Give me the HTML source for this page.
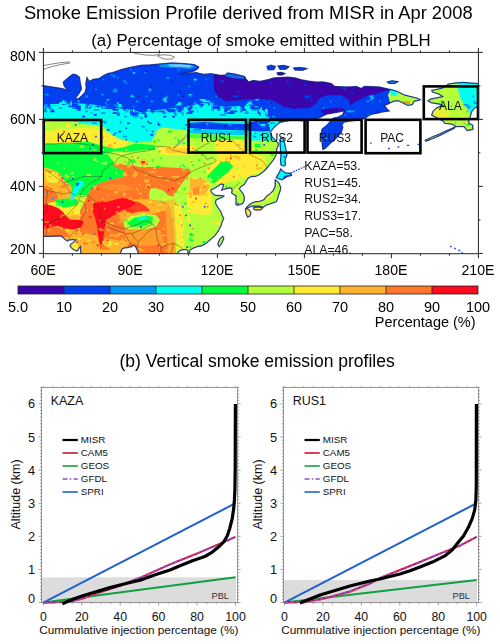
<!DOCTYPE html>
<html><head><meta charset="utf-8"><style>
html,body{margin:0;padding:0;background:#fff;}
svg{display:block;position:absolute;left:0;top:0;}
#m{will-change:transform;}
text{font-family:"Liberation Sans",sans-serif;}
</style></head><body>
<svg xmlns="http://www.w3.org/2000/svg" width="500" height="644" viewBox="0 0 500 644">
<rect x="41.5" y="577.3" width="194.6" height="25.300000000000068" fill="#dcdcdc"/>
<rect x="41.5" y="387.4" width="196.1" height="215.20000000000005" fill="none" stroke="#888" stroke-width="0.9"/>
<path d="M43.30 602.6v3M43.30 387.4v-1.2M52.91 602.6v1.5M52.91 387.4v-1.2M62.52 602.6v1.5M62.52 387.4v-1.2M72.13 602.6v1.5M72.13 387.4v-1.2M81.74 602.6v3M81.74 387.4v-1.2M91.35 602.6v1.5M91.35 387.4v-1.2M100.96 602.6v1.5M100.96 387.4v-1.2M110.57 602.6v1.5M110.57 387.4v-1.2M120.18 602.6v3M120.18 387.4v-1.2M129.79 602.6v1.5M129.79 387.4v-1.2M139.40 602.6v1.5M139.40 387.4v-1.2M149.01 602.6v1.5M149.01 387.4v-1.2M158.62 602.6v3M158.62 387.4v-1.2M168.23 602.6v1.5M168.23 387.4v-1.2M177.84 602.6v1.5M177.84 387.4v-1.2M187.45 602.6v1.5M187.45 387.4v-1.2M197.06 602.6v3M197.06 387.4v-1.2M206.67 602.6v1.5M206.67 387.4v-1.2M216.28 602.6v1.5M216.28 387.4v-1.2M225.89 602.6v1.5M225.89 387.4v-1.2M235.50 602.6v3M235.50 387.4v-1.2M41.5 602.60h-3M237.6 602.60h3M41.5 599.29h-1.5M237.6 599.29h1.5M41.5 595.97h-1.5M237.6 595.97h1.5M41.5 592.66h-1.5M237.6 592.66h1.5M41.5 589.35h-1.5M237.6 589.35h1.5M41.5 586.03h-1.5M237.6 586.03h1.5M41.5 582.72h-1.5M237.6 582.72h1.5M41.5 579.41h-1.5M237.6 579.41h1.5M41.5 576.10h-1.5M237.6 576.10h1.5M41.5 572.78h-1.5M237.6 572.78h1.5M41.5 569.47h-3M237.6 569.47h3M41.5 566.16h-1.5M237.6 566.16h1.5M41.5 562.84h-1.5M237.6 562.84h1.5M41.5 559.53h-1.5M237.6 559.53h1.5M41.5 556.22h-1.5M237.6 556.22h1.5M41.5 552.90h-1.5M237.6 552.90h1.5M41.5 549.59h-1.5M237.6 549.59h1.5M41.5 546.28h-1.5M237.6 546.28h1.5M41.5 542.97h-1.5M237.6 542.97h1.5M41.5 539.65h-1.5M237.6 539.65h1.5M41.5 536.34h-3M237.6 536.34h3M41.5 533.03h-1.5M237.6 533.03h1.5M41.5 529.71h-1.5M237.6 529.71h1.5M41.5 526.40h-1.5M237.6 526.40h1.5M41.5 523.09h-1.5M237.6 523.09h1.5M41.5 519.77h-1.5M237.6 519.77h1.5M41.5 516.46h-1.5M237.6 516.46h1.5M41.5 513.15h-1.5M237.6 513.15h1.5M41.5 509.84h-1.5M237.6 509.84h1.5M41.5 506.52h-1.5M237.6 506.52h1.5M41.5 503.21h-3M237.6 503.21h3M41.5 499.90h-1.5M237.6 499.90h1.5M41.5 496.58h-1.5M237.6 496.58h1.5M41.5 493.27h-1.5M237.6 493.27h1.5M41.5 489.96h-1.5M237.6 489.96h1.5M41.5 486.64h-1.5M237.6 486.64h1.5M41.5 483.33h-1.5M237.6 483.33h1.5M41.5 480.02h-1.5M237.6 480.02h1.5M41.5 476.71h-1.5M237.6 476.71h1.5M41.5 473.39h-1.5M237.6 473.39h1.5M41.5 470.08h-3M237.6 470.08h3M41.5 466.77h-1.5M237.6 466.77h1.5M41.5 463.45h-1.5M237.6 463.45h1.5M41.5 460.14h-1.5M237.6 460.14h1.5M41.5 456.83h-1.5M237.6 456.83h1.5M41.5 453.51h-1.5M237.6 453.51h1.5M41.5 450.20h-1.5M237.6 450.20h1.5M41.5 446.89h-1.5M237.6 446.89h1.5M41.5 443.58h-1.5M237.6 443.58h1.5M41.5 440.26h-1.5M237.6 440.26h1.5M41.5 436.95h-3M237.6 436.95h3M41.5 433.64h-1.5M237.6 433.64h1.5M41.5 430.32h-1.5M237.6 430.32h1.5M41.5 427.01h-1.5M237.6 427.01h1.5M41.5 423.70h-1.5M237.6 423.70h1.5M41.5 420.38h-1.5M237.6 420.38h1.5M41.5 417.07h-1.5M237.6 417.07h1.5M41.5 413.76h-1.5M237.6 413.76h1.5M41.5 410.45h-1.5M237.6 410.45h1.5M41.5 407.13h-1.5M237.6 407.13h1.5M41.5 403.82h-3M237.6 403.82h3M41.5 400.51h-1.5M237.6 400.51h1.5M41.5 397.19h-1.5M237.6 397.19h1.5M41.5 393.88h-1.5M237.6 393.88h1.5M41.5 390.57h-1.5M237.6 390.57h1.5M41.5 387.25h-1.5M237.6 387.25h1.5" stroke="#888" stroke-width="0.8" fill="none"/>
<text x="35.10" y="603.20" font-size="12.8" text-anchor="end" fill="#111" >0</text>
<text x="35.10" y="574.07" font-size="12.8" text-anchor="end" fill="#111" >1</text>
<text x="35.10" y="540.94" font-size="12.8" text-anchor="end" fill="#111" >2</text>
<text x="35.10" y="507.81" font-size="12.8" text-anchor="end" fill="#111" >3</text>
<text x="35.10" y="474.68" font-size="12.8" text-anchor="end" fill="#111" >4</text>
<text x="35.10" y="441.55" font-size="12.8" text-anchor="end" fill="#111" >5</text>
<text x="35.10" y="408.42" font-size="12.8" text-anchor="end" fill="#111" >6</text>
<text x="43.30" y="620.80" font-size="12.3" text-anchor="middle" fill="#111" >0</text>
<text x="81.74" y="620.80" font-size="12.3" text-anchor="middle" fill="#111" >20</text>
<text x="120.18" y="620.80" font-size="12.3" text-anchor="middle" fill="#111" >40</text>
<text x="158.62" y="620.80" font-size="12.3" text-anchor="middle" fill="#111" >60</text>
<text x="197.06" y="620.80" font-size="12.3" text-anchor="middle" fill="#111" >80</text>
<text x="235.50" y="620.80" font-size="12.3" text-anchor="middle" fill="#111" >100</text>
<text x="138.80" y="633.80" font-size="11.8" text-anchor="middle" fill="#111" >Cummulative injection percentage (%)</text>
<text x="0.00" y="0.00" font-size="12.5" text-anchor="middle" fill="#111" transform="translate(19.6 494.5) rotate(-90)">Altitude (km)</text>
<text x="50.70" y="405.00" font-size="12.5" text-anchor="start" fill="#111" >KAZA</text>
<text x="211.60" y="598.70" font-size="9.2" text-anchor="start" fill="#333" >PBL</text>
<path d="M43.30 602.60L235.50 503.21" stroke="#2060d0" stroke-width="2" fill="none"/>
<path d="M43.30 602.60L235.50 577.30" stroke="#10a040" stroke-width="2" fill="none"/>
<path d="M43.5 602.7L54 602.3L62.4 601.9L72.2 600.9L82 598.8L89 596L100 592.2L120 585.8L140 577.8L170 564.3L184 558.7L198 553.1L212 547.1L226 541.2L235.3 536.8" stroke="#e0102a" stroke-width="2" fill="none"/>
<path d="M43.5 602.7L54 602.3L62.4 601.9L72.2 600.9L82 598.8L89 596L100 592.2L120 585.8L140 577.8L170 564.3L184 558.7L198 553.1L212 547.1L226 541.2L235.3 536.8" stroke="#9050d0" stroke-width="2" fill="none" stroke-dasharray="3.4 2.6"/>
<path d="M62.4 603.7L72.2 599.5L82 596L96 591.8L100 590.6L110 587.6L120 585L128 583L140 580.2L156 574.6L170 570L180 565.8L192.4 560.8L204.8 556.5L212.3 552.1L218.5 547.1L223.5 542.2L227.2 536L229.7 528.5L232.2 518.6L233.7 508.6L234.4 499.9L234.9 490L235.2 470L235.4 404" stroke="#000" stroke-width="3.2" fill="none" stroke-linejoin="round"/>
<path d="M62.5 440h15.3" stroke="#000" stroke-width="2.2"/>
<text x="80.80" y="443.30" font-size="9.8" text-anchor="start" fill="#111" >MISR</text>
<path d="M62.5 453h15.3" stroke="#d01030" stroke-width="1.6"/>
<text x="80.80" y="456.30" font-size="9.8" text-anchor="start" fill="#111" >CAM5</text>
<path d="M62.5 466h15.3" stroke="#10a040" stroke-width="1.6"/>
<text x="80.80" y="469.30" font-size="9.8" text-anchor="start" fill="#111" >GEOS</text>
<path d="M62.5 479h15.3" stroke="#9050d0" stroke-width="1.6" stroke-dasharray="5 2.2 1.6 2.2"/>
<text x="80.80" y="482.30" font-size="9.8" text-anchor="start" fill="#111" >GFDL</text>
<path d="M62.5 492h15.3" stroke="#2060d0" stroke-width="1.6"/>
<text x="80.80" y="495.30" font-size="9.8" text-anchor="start" fill="#111" >SPRI</text>
<rect x="283.5" y="580.1" width="193.5" height="22.5" fill="#dcdcdc"/>
<rect x="283.5" y="387.4" width="195.0" height="215.20000000000005" fill="none" stroke="#888" stroke-width="0.9"/>
<path d="M284.50 602.6v3M284.50 387.4v-1.2M294.11 602.6v1.5M294.11 387.4v-1.2M303.72 602.6v1.5M303.72 387.4v-1.2M313.33 602.6v1.5M313.33 387.4v-1.2M322.94 602.6v3M322.94 387.4v-1.2M332.55 602.6v1.5M332.55 387.4v-1.2M342.16 602.6v1.5M342.16 387.4v-1.2M351.77 602.6v1.5M351.77 387.4v-1.2M361.38 602.6v3M361.38 387.4v-1.2M370.99 602.6v1.5M370.99 387.4v-1.2M380.60 602.6v1.5M380.60 387.4v-1.2M390.21 602.6v1.5M390.21 387.4v-1.2M399.82 602.6v3M399.82 387.4v-1.2M409.43 602.6v1.5M409.43 387.4v-1.2M419.04 602.6v1.5M419.04 387.4v-1.2M428.65 602.6v1.5M428.65 387.4v-1.2M438.26 602.6v3M438.26 387.4v-1.2M447.87 602.6v1.5M447.87 387.4v-1.2M457.48 602.6v1.5M457.48 387.4v-1.2M467.09 602.6v1.5M467.09 387.4v-1.2M476.70 602.6v3M476.70 387.4v-1.2M283.5 602.60h-3M478.5 602.60h3M283.5 599.29h-1.5M478.5 599.29h1.5M283.5 595.97h-1.5M478.5 595.97h1.5M283.5 592.66h-1.5M478.5 592.66h1.5M283.5 589.35h-1.5M478.5 589.35h1.5M283.5 586.03h-1.5M478.5 586.03h1.5M283.5 582.72h-1.5M478.5 582.72h1.5M283.5 579.41h-1.5M478.5 579.41h1.5M283.5 576.10h-1.5M478.5 576.10h1.5M283.5 572.78h-1.5M478.5 572.78h1.5M283.5 569.47h-3M478.5 569.47h3M283.5 566.16h-1.5M478.5 566.16h1.5M283.5 562.84h-1.5M478.5 562.84h1.5M283.5 559.53h-1.5M478.5 559.53h1.5M283.5 556.22h-1.5M478.5 556.22h1.5M283.5 552.90h-1.5M478.5 552.90h1.5M283.5 549.59h-1.5M478.5 549.59h1.5M283.5 546.28h-1.5M478.5 546.28h1.5M283.5 542.97h-1.5M478.5 542.97h1.5M283.5 539.65h-1.5M478.5 539.65h1.5M283.5 536.34h-3M478.5 536.34h3M283.5 533.03h-1.5M478.5 533.03h1.5M283.5 529.71h-1.5M478.5 529.71h1.5M283.5 526.40h-1.5M478.5 526.40h1.5M283.5 523.09h-1.5M478.5 523.09h1.5M283.5 519.77h-1.5M478.5 519.77h1.5M283.5 516.46h-1.5M478.5 516.46h1.5M283.5 513.15h-1.5M478.5 513.15h1.5M283.5 509.84h-1.5M478.5 509.84h1.5M283.5 506.52h-1.5M478.5 506.52h1.5M283.5 503.21h-3M478.5 503.21h3M283.5 499.90h-1.5M478.5 499.90h1.5M283.5 496.58h-1.5M478.5 496.58h1.5M283.5 493.27h-1.5M478.5 493.27h1.5M283.5 489.96h-1.5M478.5 489.96h1.5M283.5 486.64h-1.5M478.5 486.64h1.5M283.5 483.33h-1.5M478.5 483.33h1.5M283.5 480.02h-1.5M478.5 480.02h1.5M283.5 476.71h-1.5M478.5 476.71h1.5M283.5 473.39h-1.5M478.5 473.39h1.5M283.5 470.08h-3M478.5 470.08h3M283.5 466.77h-1.5M478.5 466.77h1.5M283.5 463.45h-1.5M478.5 463.45h1.5M283.5 460.14h-1.5M478.5 460.14h1.5M283.5 456.83h-1.5M478.5 456.83h1.5M283.5 453.51h-1.5M478.5 453.51h1.5M283.5 450.20h-1.5M478.5 450.20h1.5M283.5 446.89h-1.5M478.5 446.89h1.5M283.5 443.58h-1.5M478.5 443.58h1.5M283.5 440.26h-1.5M478.5 440.26h1.5M283.5 436.95h-3M478.5 436.95h3M283.5 433.64h-1.5M478.5 433.64h1.5M283.5 430.32h-1.5M478.5 430.32h1.5M283.5 427.01h-1.5M478.5 427.01h1.5M283.5 423.70h-1.5M478.5 423.70h1.5M283.5 420.38h-1.5M478.5 420.38h1.5M283.5 417.07h-1.5M478.5 417.07h1.5M283.5 413.76h-1.5M478.5 413.76h1.5M283.5 410.45h-1.5M478.5 410.45h1.5M283.5 407.13h-1.5M478.5 407.13h1.5M283.5 403.82h-3M478.5 403.82h3M283.5 400.51h-1.5M478.5 400.51h1.5M283.5 397.19h-1.5M478.5 397.19h1.5M283.5 393.88h-1.5M478.5 393.88h1.5M283.5 390.57h-1.5M478.5 390.57h1.5M283.5 387.25h-1.5M478.5 387.25h1.5" stroke="#888" stroke-width="0.8" fill="none"/>
<text x="277.10" y="603.20" font-size="12.8" text-anchor="end" fill="#111" >0</text>
<text x="277.10" y="574.07" font-size="12.8" text-anchor="end" fill="#111" >1</text>
<text x="277.10" y="540.94" font-size="12.8" text-anchor="end" fill="#111" >2</text>
<text x="277.10" y="507.81" font-size="12.8" text-anchor="end" fill="#111" >3</text>
<text x="277.10" y="474.68" font-size="12.8" text-anchor="end" fill="#111" >4</text>
<text x="277.10" y="441.55" font-size="12.8" text-anchor="end" fill="#111" >5</text>
<text x="277.10" y="408.42" font-size="12.8" text-anchor="end" fill="#111" >6</text>
<text x="284.50" y="620.80" font-size="12.3" text-anchor="middle" fill="#111" >0</text>
<text x="322.94" y="620.80" font-size="12.3" text-anchor="middle" fill="#111" >20</text>
<text x="361.38" y="620.80" font-size="12.3" text-anchor="middle" fill="#111" >40</text>
<text x="399.82" y="620.80" font-size="12.3" text-anchor="middle" fill="#111" >60</text>
<text x="438.26" y="620.80" font-size="12.3" text-anchor="middle" fill="#111" >80</text>
<text x="476.70" y="620.80" font-size="12.3" text-anchor="middle" fill="#111" >100</text>
<text x="380.80" y="633.80" font-size="11.8" text-anchor="middle" fill="#111" >Cummulative injection percentage (%)</text>
<text x="0.00" y="0.00" font-size="12.5" text-anchor="middle" fill="#111" transform="translate(261.6 494.5) rotate(-90)">Altitude (km)</text>
<text x="292.70" y="405.00" font-size="12.5" text-anchor="start" fill="#111" >RUS1</text>
<text x="452.50" y="598.70" font-size="9.2" text-anchor="start" fill="#333" >PBL</text>
<path d="M284.50 602.60L476.70 503.21" stroke="#2060d0" stroke-width="2" fill="none"/>
<path d="M284.50 602.60L476.70 580.10" stroke="#10a040" stroke-width="2" fill="none"/>
<path d="M284.6 602.6L300 602L310 601L320 599.5L330 597L350 591.5L370 583.5L380 578L400 570L420 562L440 553.6L460 545.6L476.7 536.8" stroke="#e0102a" stroke-width="2" fill="none"/>
<path d="M284.6 602.6L300 602L310 601L320 599.5L330 597L350 591.5L370 583.5L380 578L400 570L420 562L440 553.6L460 545.6L476.7 536.8" stroke="#9050d0" stroke-width="2" fill="none" stroke-dasharray="3.4 2.6"/>
<path d="M300 603L310 599L320 595L330 592L340 589L350 586L360 583.5L370 581L380 579L392 576L400 574L410 570.8L420 567L432.4 562.1L444.8 555.9L452.3 549.7L457.3 543.5L463.5 536L468.4 527.3L472.2 518.6L474.7 509.9L475.9 500L476.3 485L476.4 404" stroke="#000" stroke-width="3.2" fill="none" stroke-linejoin="round"/>
<path d="M304.5 440h15.3" stroke="#000" stroke-width="2.2"/>
<text x="322.80" y="443.30" font-size="9.8" text-anchor="start" fill="#111" >MISR</text>
<path d="M304.5 453h15.3" stroke="#d01030" stroke-width="1.6"/>
<text x="322.80" y="456.30" font-size="9.8" text-anchor="start" fill="#111" >CAM5</text>
<path d="M304.5 466h15.3" stroke="#10a040" stroke-width="1.6"/>
<text x="322.80" y="469.30" font-size="9.8" text-anchor="start" fill="#111" >GEOS</text>
<path d="M304.5 479h15.3" stroke="#9050d0" stroke-width="1.6" stroke-dasharray="5 2.2 1.6 2.2"/>
<text x="322.80" y="482.30" font-size="9.8" text-anchor="start" fill="#111" >GFDL</text>
<path d="M304.5 492h15.3" stroke="#2060d0" stroke-width="1.6"/>
<text x="322.80" y="495.30" font-size="9.8" text-anchor="start" fill="#111" >SPRI</text>
</svg>
<svg id="m" xmlns="http://www.w3.org/2000/svg" width="500" height="644" viewBox="0 0 500 644">
<text x="23.90" y="19.20" font-size="19" text-anchor="start" fill="#000" textLength="448.7" lengthAdjust="spacingAndGlyphs" >Smoke Emission Profile derived from MISR in Apr 2008</text>
<text x="261.00" y="46.00" font-size="16.8" text-anchor="middle" fill="#000" >(a) Percentage of smoke emitted within PBLH</text>
<defs><clipPath id="mapclip"><rect x="43" y="52" width="435" height="201.5"/></clipPath><clipPath id="land"><path d="M43.0 85.6L55.0 87.5L62.6 88.7L67.5 90.5L64.0 85.6L63.3 82.1L69.6 76.5L73.1 74.1L76.6 75.1L79.5 77.2L79.8 80.0L80.5 84.0L81.5 89.0L79.0 93.5L76.0 97.5L75.5 98.8L78.0 99.0L81.5 96.0L85.0 92.5L86.3 88.0L85.8 84.0L86.5 80.0L87.0 77.5L89.2 81.4L93.4 79.3L99.0 78.6L103.2 75.8L107.4 73.7L113.0 72.5L121.4 69.5L130.0 67.5L141.0 65.3L149.6 65.0L164.0 63.6L172.0 63.0L184.8 63.6L194.4 64.6L198.8 67.0L197.6 68.8L194.4 70.9L188.0 72.5L180.0 74.2L188.0 73.4L196.0 72.6L200.0 73.6L204.0 74.4L211.0 73.7L220.0 75.3L225.0 75.1L227.8 73.0L236.2 74.4L244.6 76.5L246.0 79.3L248.8 82.1L253.0 80.5L260.0 81.4L267.0 80.0L274.0 77.9L288.0 77.2L295.0 77.9L302.0 80.0L309.0 81.2L316.0 82.1L323.0 82.0L331.4 83.5L334.2 86.3L344.0 87.0L350.0 87.0L356.4 86.5L361.2 88.5L364.4 86.4L378.8 87.0L390.0 89.4L396.4 91.0L401.2 93.4L404.4 95.0L410.8 96.6L417.2 98.2L420.4 99.8L414.0 101.4L412.4 104.6L407.6 105.4L402.8 103.0L398.0 100.6L393.2 101.4L390.0 103.0L386.8 104.6L384.4 104.9L386.0 107.8L389.2 111.0L382.8 111.8L376.4 113.4L371.6 114.2L368.4 115.8L365.2 118.2L358.0 120.0L350.0 121.0L344.4 122.0L342.0 124.4L342.8 127.6L341.2 132.4L336.4 138.0L331.6 142.0L328.4 145.2L325.2 148.4L322.8 149.4L322.0 142.0L321.2 134.0L322.0 129.2L326.0 126.0L329.0 123.0L331.0 120.0L333.5 118.0L338.0 117.2L342.8 114.8L344.4 110.8L336.4 112.4L326.8 114.0L320.4 117.2L314.0 119.5L306.0 121.0L298.0 120.5L290.0 120.5L284.0 121.5L280.0 122.4L276.0 125.6L272.8 128.8L270.4 132.0L272.0 136.8L276.0 140.8L278.5 143.5L278.3 145.5L277.0 148.0L276.5 152.0L276.0 155.0L274.0 159.0L271.0 163.0L267.0 168.0L263.0 172.0L259.0 175.0L255.0 176.5L251.0 176.5L247.8 178.6L246.0 181.6L244.2 184.6L240.6 187.0L239.4 188.8L240.6 190.6L243.0 193.6L244.2 196.6L244.2 200.2L243.0 203.2L240.6 204.4L237.6 205.3L235.8 204.4L236.1 201.4L235.8 197.8L236.1 195.7L234.0 194.8L231.6 193.0L232.2 190.0L231.0 187.9L229.0 188.0L225.0 189.0L222.0 190.0L221.5 190.5L223.0 187.0L223.5 184.5L221.0 184.0L218.0 186.0L215.0 188.0L211.0 190.0L211.0 191.5L213.0 194.0L216.0 195.5L220.0 195.5L224.0 196.0L223.0 197.0L219.0 198.6L216.0 200.0L215.5 203.0L217.0 206.0L219.0 209.0L221.0 212.0L222.0 215.0L223.7 218.4L221.5 223.8L221.4 225.0L219.0 229.8L216.6 233.4L214.2 236.4L210.6 239.4L205.8 243.6L201.0 246.0L197.4 246.6L192.6 248.4L189.6 250.8L189.2 254.0L188.2 254.0L187.8 250.8L186.6 249.6L183.0 249.6L179.4 250.8L177.0 254.0L138.8 254.0L137.0 249.8L135.6 246.7L133.8 245.3L131.1 246.7L127.5 247.6L123.9 248.0L121.7 249.4L120.3 254.0L81.0 254.0L80.5 251.0L80.5 246.5L79.0 248.0L77.5 251.0L75.0 250.5L72.0 248.5L70.0 246.0L71.0 244.0L74.0 242.0L76.0 240.0L73.0 239.5L69.0 240.0L67.5 241.0L65.0 239.5L63.0 237.5L61.0 236.0L53.0 236.2L43.0 236.5ZM447.8 84.2L455.2 83.0L462.6 82.3L470.0 83.0L479.0 83.6L479.0 106.0L474.0 108.5L471.5 112.0L470.5 116.0L469.0 119.5L468.8 123.4L472.6 125.0L473.0 129.5L467.0 130.5L464.0 126.5L456.0 126.6L450.4 129.0L444.8 131.4L440.0 133.8L432.0 137.0L425.0 140.3L426.0 141.2L433.0 138.5L440.0 135.4L444.8 133.0L449.6 130.6L454.4 128.2L455.0 125.8L452.0 124.2L444.8 123.4L442.8 120.8L436.6 117.7L431.6 115.2L432.9 111.5L436.6 107.8L442.8 105.3L439.0 104.0L431.6 102.8L427.9 100.9L430.4 99.1L436.6 97.8L442.8 96.6L439.0 94.1L432.9 92.3L431.6 90.4L437.8 89.2L442.8 87.9L447.8 84.8ZM280.5 138.0L283.0 138.5L284.5 143.0L286.0 150.0L287.0 155.0L285.0 160.0L285.5 165.0L284.0 166.0L281.0 165.0L280.5 160.0L281.0 155.0L280.5 150.0L280.0 143.0ZM280.7 168.8L282.9 171.0L286.2 173.2L290.6 173.2L291.7 175.4L287.3 176.5L284.0 178.7L281.8 179.8L278.5 178.7L276.3 177.6L277.4 175.4L279.6 172.1ZM275.2 179.8L277.4 181.5L279.0 183.1L280.7 187.5L280.2 190.8L278.5 195.2L277.4 199.6L276.3 201.8L273.0 202.9L269.7 204.0L266.4 205.1L263.1 207.3L259.8 206.2L256.5 206.2L252.1 206.2L248.8 207.3L246.6 208.4L246.6 207.3L248.8 205.1L252.1 202.9L255.4 201.8L259.8 201.3L264.2 199.6L266.4 196.3L269.7 194.1L273.0 190.8L275.2 186.4L275.2 182.0ZM245.5 208.4L248.8 209.5L251.0 212.8L249.9 216.1L247.7 217.2L246.1 213.9L245.5 210.6ZM253.5 207.6L258.0 207.0L263.0 207.8L261.0 209.8L256.0 210.0L254.0 209.4ZM222.6 236.2L223.8 238.2L222.0 243.0L219.2 246.8L217.8 244.2L219.6 239.4ZM267.0 66.5L271.0 65.3L275.4 66.5L274.0 69.5L268.0 69.8ZM278.0 66.0L284.0 65.5L289.0 66.8L286.0 69.2L280.0 69.3ZM293.6 68.0L300.0 67.4L307.0 68.6L303.0 70.2L295.0 70.0ZM277.0 73.0L281.0 72.3L285.0 73.5L282.0 75.0L278.0 74.8ZM387.4 82.0L392.0 80.8L398.0 81.6L395.0 83.4L389.0 83.4Z"/></clipPath></defs>
<g clip-path="url(#mapclip)"><g clip-path="url(#land)">
<rect x="40" y="50" width="445" height="210" fill="#0040f0"/>
<path d="M213.8 70.0L213.8 89.0L217.4 96.2L226.4 101.6L233.6 100.7L242.6 99.8L257.0 98.9L271.4 99.8L278.6 103.4L284.0 107.0L293.0 108.8L309.0 107.9L316.2 103.4L319.8 98.0L327.0 95.3L341.4 95.3L348.6 99.8L350.4 105.2L355.8 101.6L363.0 98.0L369.2 95.0L379.0 94.0L387.4 91.2L391.6 89.0L395.0 85.0L395.0 70.0Z" fill="#3c05aa"/>
<path d="M321.0 110.0L330.0 108.5L342.0 108.0L346.0 111.0L341.0 116.0L330.0 116.0L321.0 114.0Z" fill="#3c05aa"/>
<path d="M158.0 64.0L175.0 63.0L190.0 64.0L197.0 67.0L190.0 69.0L175.0 68.0L160.0 67.0Z" fill="#00fff0" opacity="0.45"/>
<path d="M168.0 64.5L180.0 64.3L192.0 65.5L190.0 67.5L180.0 66.8L170.0 66.5Z" fill="#ffffff" opacity="0.5"/>
<path d="M224.0 73.0L236.0 73.0L245.0 76.0L244.0 79.0L232.0 78.0L225.0 76.0Z" fill="#0096f5" opacity="0.7"/>
<path d="M43.0 106.0L52.0 105.5L61.0 105.0L70.0 104.0L79.0 103.5L88.0 104.0L97.0 105.0L106.0 106.8L115.0 108.0L124.0 109.0L133.0 110.0L141.0 112.5L159.0 109.8L177.0 108.0L185.0 107.0L195.0 104.5L205.0 103.0L215.0 105.0L225.0 107.0L240.0 106.0L250.0 105.5L258.0 106.5L265.0 112.0L270.0 119.0L280.0 122.0L280.0 141.0L265.0 141.0L251.0 141.0L245.0 136.0L215.0 135.0L191.0 134.0L187.0 131.0L179.0 130.0L163.0 128.0L157.0 130.0L155.0 136.0L151.0 142.0L135.0 143.0L119.0 139.0L111.0 134.0L103.0 126.5L100.0 126.0L85.0 124.5L70.0 121.0L60.0 120.0L43.0 119.5Z" fill="#00fff0"/>
<path d="M189.0 123.0L205.0 122.0L225.0 123.5L245.0 124.0L255.0 121.0L270.0 121.0L270.0 131.0L262.0 131.5L245.0 130.5L230.0 130.0L212.0 129.5L195.0 128.5L189.0 128.0Z" fill="#0040f0"/>
<path d="M189.0 130.0L245.0 131.0L245.0 135.0L189.0 134.0Z" fill="#0096f5" opacity="0.5"/>
<path d="M43.0 119.0L60.0 119.5L70.0 120.5L85.0 124.0L100.0 125.5L103.0 126.0L111.0 133.5L119.0 138.5L135.0 142.5L151.0 141.5L155.0 135.5L157.0 129.5L163.0 127.5L179.0 129.5L187.0 130.5L191.0 133.5L215.0 134.5L245.0 135.5L251.0 140.5L265.0 140.5L280.0 140.5L280.0 160.0L280.0 260.0L40.0 260.0Z" fill="#b4ff3c"/>
<path d="M189.0 134.0L215.0 135.0L245.0 136.0L245.0 139.0L215.0 139.0L189.0 138.0Z" fill="#00ff3c" opacity="0.6"/>
<path d="M43.0 131.5L61.0 129.7L79.0 127.9L95.0 128.5L103.0 131.0L111.0 135.0L119.0 139.5L127.0 143.0L125.0 146.5L115.0 148.6L100.6 145.0L88.0 141.4L70.0 143.2L45.7 144.1L43.0 144.0Z" fill="#ffeb32"/>
<path d="M103.0 145.0L124.0 145.0L124.0 153.0L103.0 153.0Z" fill="#ffeb32"/>
<path d="M158.0 148.0L170.0 146.0L195.0 146.0L195.0 154.0L175.0 155.5L160.0 154.0Z" fill="#ffeb32"/>
<path d="M165.0 149.0L190.0 148.0L190.0 153.0L168.0 153.0Z" fill="#ffb42d" opacity="0.6"/>
<path d="M215.0 139.0L244.0 140.0L247.0 150.0L255.0 154.0L264.0 157.0L267.0 164.0L262.0 170.0L256.0 174.0L250.0 175.5L246.0 177.5L240.0 179.5L230.0 181.5L222.0 184.0L214.0 183.4L207.6 179.4L206.0 170.6L214.0 162.6L218.0 157.0L215.0 150.0Z" fill="#ffeb32"/>
<path d="M207.6 175.4L207.6 180.2L214.0 183.4L222.0 177.0L230.0 170.6L233.2 165.8L226.8 161.0L220.4 162.6L210.8 172.2Z" fill="#00ff3c"/>
<path d="M43.0 143.6L70.0 143.4L88.0 141.6L100.6 145.2L115.0 148.8L125.0 147.0L135.0 143.5L155.0 145.0L155.0 150.0L140.0 150.5L125.0 152.0L107.0 153.0L110.2 157.8L113.4 161.0L115.0 165.8L118.2 167.4L123.0 168.2L123.0 177.0L111.8 179.4L103.8 181.8L95.8 185.0L91.0 188.2L87.8 195.0L70.2 195.0L71.8 188.2L70.2 185.0L65.4 181.8L62.2 177.0L59.0 173.0L51.0 169.0L43.0 167.4Z" fill="#00ff3c"/>
<path d="M111.8 151.4L123.0 151.0L123.0 166.0L115.0 165.8L113.4 161.0L110.2 157.8Z" fill="#b4ff3c"/>
<path d="M113.4 164.2L123.0 163.5L123.0 169.0L115.0 168.0Z" fill="#ff7828" opacity="0.8"/>
<path d="M112.0 164.5L130.0 165.0L140.0 167.0L160.0 167.0L180.0 168.0L190.4 169.6L190.4 172.8L184.0 180.8L179.2 187.2L176.0 192.0L172.8 196.8L168.0 195.2L163.2 190.4L155.2 188.0L150.4 188.8L148.8 195.2L150.0 200.0L162.0 201.0L169.0 204.0L172.0 215.0L174.0 232.0L176.0 254.0L81.0 254.0L80.0 235.0L78.0 215.0L87.8 195.0L91.0 188.2L95.8 185.0L103.8 181.8L111.8 179.4L123.0 177.0L123.0 170.0L118.0 168.0Z" fill="#ff7828"/>
<path d="M138.0 160.0L144.0 158.5L149.0 161.0L147.0 165.0L140.0 165.0Z" fill="#ffb42d" opacity="0.6"/>
<path d="M141.0 161.5L144.5 161.0L145.0 163.0L141.5 163.5Z" fill="#ff0a1e"/>
<path d="M137.0 157.0L139.0 157.0L139.0 158.7L137.0 158.7Z" fill="#ff7828"/>
<path d="M146.0 163.5L148.0 163.5L148.0 165.2L146.0 165.2Z" fill="#ff7828"/>
<path d="M128.0 200.0L150.0 199.0L162.0 202.0L168.0 206.0L165.0 211.0L150.0 210.0L135.0 211.0L128.0 208.0Z" fill="#ffb42d"/>
<path d="M100.0 186.0L112.0 184.0L125.0 185.0L135.0 189.0L125.0 191.0L110.0 190.0Z" fill="#ffb42d" opacity="0.35"/>
<path d="M43.0 167.4L51.0 169.0L59.0 173.0L62.2 177.0L65.4 181.8L70.2 185.0L71.8 188.2L70.2 195.0L78.0 200.0L80.0 215.0L80.0 240.0L81.0 254.0L40.0 254.0L40.0 167.0Z" fill="#ffb42d"/>
<path d="M45.0 172.0L55.0 172.0L60.0 178.0L57.0 183.0L47.0 182.0Z" fill="#ffeb32"/>
<path d="M43.0 185.0L52.0 188.0L58.0 196.0L56.0 205.0L43.0 205.0Z" fill="#ff7828"/>
<path d="M43.0 226.0L55.0 226.0L65.0 231.0L70.0 236.0L60.0 238.0L43.0 237.0Z" fill="#ff7828"/>
<path d="M67.0 238.0L76.0 240.0L80.0 250.0L75.0 252.0L70.0 246.0Z" fill="#ffeb32"/>
<path d="M48.0 203.0L60.0 200.5L72.0 202.0L80.0 204.0L80.0 214.0L68.0 216.0L55.0 215.0L48.0 212.0Z" fill="#ffeb32"/>
<path d="M55.4 200.0L65.0 198.5L77.8 199.5L77.0 205.5L65.0 207.5L56.0 206.0Z" fill="#00ff3c"/>
<path d="M52.0 205.0L62.0 206.0L60.0 209.0L52.0 208.5Z" fill="#b4ff3c"/>
<path d="M79.0 180.5L84.0 181.5L83.0 186.0L79.0 190.0L76.0 195.0L73.0 200.0L71.0 201.0L70.5 197.0L72.5 191.0L75.0 186.0L77.0 182.5Z" fill="#00fff0"/>
<path d="M119.0 215.5L127.0 212.5L137.0 210.0L148.0 210.5L155.0 208.0L163.0 204.5L167.0 207.0L160.0 212.0L150.0 215.0L138.0 217.5L127.0 219.5L120.0 219.0Z" fill="#ffb42d"/>
<path d="M80.0 232.0L97.0 236.0L100.0 246.0L105.0 238.0L118.0 240.0L130.0 242.0L121.0 254.0L81.0 254.0Z" fill="#ffb42d"/>
<path d="M125.0 228.0L160.0 230.0L165.0 245.0L140.0 246.0L125.0 240.0Z" fill="#ffb42d" opacity="0.6"/>
<path d="M43.0 226.0L56.0 227.0L60.0 233.0L55.0 236.0L43.0 236.0Z" fill="#ff7828"/>
<path d="M43.0 204.0L50.0 205.0L58.0 208.0L63.0 212.0L66.0 216.0L70.0 219.5L80.0 220.0L84.0 222.0L81.0 227.5L72.0 229.5L64.0 228.0L58.0 226.0L52.0 226.5L47.0 228.5L43.0 228.5Z" fill="#ff0a1e"/>
<path d="M93.0 204.0L100.0 201.0L106.0 202.3L117.0 199.0L122.5 197.9L128.0 199.0L133.0 201.0L136.0 203.0L131.0 207.0L122.5 210.0L117.0 213.3L111.5 216.6L106.0 220.0L105.0 226.0L103.0 240.0L101.0 250.0L99.0 240.0L97.0 226.0L95.0 218.0L93.0 212.0Z" fill="#ff0a1e"/>
<path d="M130.0 201.5L138.0 201.8L145.0 205.5L149.4 209.8L149.4 211.0L140.0 211.5L131.0 213.3L125.0 210.0Z" fill="#ff0a1e" opacity="0.7"/>
<path d="M123.0 223.0L130.0 216.5L142.0 214.0L156.0 215.0L160.0 220.0L156.0 227.0L145.0 229.5L132.0 229.5L125.0 228.0Z" fill="#b4ff3c"/>
<path d="M127.0 223.0L134.0 218.0L146.0 215.5L153.0 217.0L152.0 223.0L142.0 226.5L131.0 226.5Z" fill="#00ff3c"/>
<path d="M136.0 219.0L142.0 216.5L147.0 216.0L147.0 218.5L140.0 220.5Z" fill="#00fff0" opacity="0.85"/>
<path d="M165.0 201.0L175.0 199.0L176.0 254.0L168.0 254.0Z" fill="#ffb42d" opacity="0.7"/>
<path d="M174.0 205.0L180.0 204.0L183.0 215.0L184.0 254.0L178.0 254.0L176.0 230.0Z" fill="#ffeb32"/>
<path d="M187.0 192.0L200.0 187.0L212.0 190.0L212.0 214.0L200.0 215.0L187.0 212.0Z" fill="#ffeb32"/>
<path d="M190.0 177.0L205.0 180.0L210.0 186.0L205.0 195.0L195.0 196.0L190.0 190.0Z" fill="#ffb42d"/>
<path d="M193.0 188.0L200.0 187.0L199.0 194.0L193.0 195.0Z" fill="#ff7828" opacity="0.7"/>
<path d="M281.0 191.0L279.0 197.0L277.0 202.0L272.0 204.0L266.0 206.0L262.0 208.0L255.0 207.0L248.0 208.0L245.0 209.0L245.0 218.0L252.0 218.0L253.0 211.0L264.0 211.0L270.0 206.0L278.0 204.0L282.0 198.0Z" fill="#ffeb32"/>
<path d="M247.0 205.0L258.0 201.0L268.0 195.0L272.0 193.0L274.0 195.0L266.0 201.0L255.0 204.0Z" fill="#ffeb32" opacity="0.8"/>
<path d="M275.0 165.0L292.0 172.0L292.0 174.0L284.0 176.0L282.0 181.0L274.0 181.0Z" fill="#00fff0"/>
<path d="M279.0 137.0L288.0 137.0L288.0 167.0L279.0 167.0Z" fill="#00fff0"/>
<path d="M391.0 89.0L370.0 96.0L355.0 104.0L395.0 106.0Z" fill="#0040f0"/>
<path d="M391.0 89.0L420.0 95.0L425.0 105.0L391.0 106.0L388.0 95.0Z" fill="#b4ff3c"/>
<path d="M390.0 88.0L398.0 90.0L397.0 95.0L391.0 96.0Z" fill="#00fff0"/>
<path d="M402.0 101.0L410.0 101.0L410.0 104.0L403.0 104.0Z" fill="#ff7828" opacity="0.7"/>
<path d="M385.0 79.0L400.0 79.0L400.0 85.0L385.0 85.0Z" fill="#0096f5"/>
<path d="M425.0 80.0L479.0 80.0L479.0 145.0L425.0 145.0Z" fill="#b4ff3c"/>
<path d="M457.7 80.0L457.7 87.9L458.9 92.9L460.8 99.1L465.1 106.5L470.0 112.7L475.0 115.2L479.0 116.0L479.0 80.0Z" fill="#00fff0"/>
<path d="M432.0 108.0L449.0 109.0L449.0 118.0L432.0 118.0Z" fill="#ffeb32" opacity="0.7"/>
<path d="M145.9 70.4h1.5v1.7h-1.5zM170.6 80.5h1.5v1.7h-1.5zM150.3 85.5h1.5v1.7h-1.5zM179.3 90.5h1.5v1.7h-1.5zM137.2 95.6h1.5v1.7h-1.5zM182.2 95.6h1.5v1.7h-1.5zM380.8 95.6h1.5v1.7h-1.5zM270.6 102.2h1.5v1.7h-1.5zM376.5 110.6h1.5v1.7h-1.5zM224.2 125.7h1.5v1.7h-1.5z" fill="#3c05aa"/>
<path d="M219.9 80.5h1.5v1.7h-1.5zM221.3 80.5h1.5v1.7h-1.5zM222.8 80.5h1.5v1.7h-1.5zM286.6 80.5h1.5v1.7h-1.5zM270.6 82.2h1.5v1.7h-1.5zM289.5 83.8h1.5v1.7h-1.5zM304.0 83.8h1.5v1.7h-1.5zM343.1 87.2h1.5v1.7h-1.5zM344.6 87.2h1.5v1.7h-1.5zM344.6 88.8h1.5v1.7h-1.5zM237.3 90.5h1.5v1.7h-1.5zM351.8 92.2h1.5v1.7h-1.5zM232.9 95.6h1.5v1.7h-1.5zM234.4 95.6h1.5v1.7h-1.5zM235.8 95.6h1.5v1.7h-1.5zM237.3 95.6h1.5v1.7h-1.5zM304.0 95.6h1.5v1.7h-1.5zM305.4 95.6h1.5v1.7h-1.5zM306.9 95.6h1.5v1.7h-1.5zM308.3 95.6h1.5v1.7h-1.5zM309.8 95.6h1.5v1.7h-1.5zM257.6 97.2h1.5v1.7h-1.5zM305.4 97.2h1.5v1.7h-1.5zM306.9 97.2h1.5v1.7h-1.5zM309.8 98.9h1.5v1.7h-1.5zM311.2 100.6h1.5v1.7h-1.5zM72.0 103.9h1.5v1.7h-1.5zM73.5 103.9h1.5v1.7h-1.5zM74.9 103.9h1.5v1.7h-1.5zM76.3 103.9h1.5v1.7h-1.5zM86.5 103.9h1.5v1.7h-1.5zM87.9 103.9h1.5v1.7h-1.5zM198.2 103.9h1.5v1.7h-1.5zM199.6 103.9h1.5v1.7h-1.5zM201.0 103.9h1.5v1.7h-1.5zM202.5 103.9h1.5v1.7h-1.5zM208.3 103.9h1.5v1.7h-1.5zM292.4 103.9h1.5v1.7h-1.5zM47.4 105.6h1.5v1.7h-1.5zM48.8 105.6h1.5v1.7h-1.5zM69.1 105.6h1.5v1.7h-1.5zM70.5 105.6h1.5v1.7h-1.5zM72.0 105.6h1.5v1.7h-1.5zM73.5 105.6h1.5v1.7h-1.5zM74.9 105.6h1.5v1.7h-1.5zM76.3 105.6h1.5v1.7h-1.5zM77.8 105.6h1.5v1.7h-1.5zM79.2 105.6h1.5v1.7h-1.5zM86.5 105.6h1.5v1.7h-1.5zM96.7 105.6h1.5v1.7h-1.5zM98.1 105.6h1.5v1.7h-1.5zM101.0 105.6h1.5v1.7h-1.5zM189.4 105.6h1.5v1.7h-1.5zM190.9 105.6h1.5v1.7h-1.5zM201.0 105.6h1.5v1.7h-1.5zM212.7 105.6h1.5v1.7h-1.5zM214.1 105.6h1.5v1.7h-1.5zM215.5 105.6h1.5v1.7h-1.5zM217.0 105.6h1.5v1.7h-1.5zM218.4 105.6h1.5v1.7h-1.5zM240.2 105.6h1.5v1.7h-1.5zM241.7 105.6h1.5v1.7h-1.5zM243.1 105.6h1.5v1.7h-1.5zM250.3 105.6h1.5v1.7h-1.5zM251.8 105.6h1.5v1.7h-1.5zM253.2 105.6h1.5v1.7h-1.5zM48.8 107.3h1.5v1.7h-1.5zM74.9 107.3h1.5v1.7h-1.5zM76.3 107.3h1.5v1.7h-1.5zM77.8 107.3h1.5v1.7h-1.5zM79.2 107.3h1.5v1.7h-1.5zM105.3 107.3h1.5v1.7h-1.5zM106.8 107.3h1.5v1.7h-1.5zM108.2 107.3h1.5v1.7h-1.5zM109.7 107.3h1.5v1.7h-1.5zM111.1 107.3h1.5v1.7h-1.5zM112.6 107.3h1.5v1.7h-1.5zM114.0 107.3h1.5v1.7h-1.5zM176.4 107.3h1.5v1.7h-1.5zM177.8 107.3h1.5v1.7h-1.5zM179.3 107.3h1.5v1.7h-1.5zM180.8 107.3h1.5v1.7h-1.5zM182.2 107.3h1.5v1.7h-1.5zM188.0 107.3h1.5v1.7h-1.5zM189.4 107.3h1.5v1.7h-1.5zM190.9 107.3h1.5v1.7h-1.5zM212.7 107.3h1.5v1.7h-1.5zM214.1 107.3h1.5v1.7h-1.5zM215.5 107.3h1.5v1.7h-1.5zM217.0 107.3h1.5v1.7h-1.5zM218.4 107.3h1.5v1.7h-1.5zM224.2 107.3h1.5v1.7h-1.5zM225.7 107.3h1.5v1.7h-1.5zM227.2 107.3h1.5v1.7h-1.5zM228.6 107.3h1.5v1.7h-1.5zM230.0 107.3h1.5v1.7h-1.5zM241.7 107.3h1.5v1.7h-1.5zM243.1 107.3h1.5v1.7h-1.5zM250.3 107.3h1.5v1.7h-1.5zM251.8 107.3h1.5v1.7h-1.5zM253.2 107.3h1.5v1.7h-1.5zM254.7 107.3h1.5v1.7h-1.5zM256.1 107.3h1.5v1.7h-1.5zM257.6 107.3h1.5v1.7h-1.5zM259.0 107.3h1.5v1.7h-1.5zM44.5 109.0h1.5v1.7h-1.5zM51.7 109.0h1.5v1.7h-1.5zM77.8 109.0h1.5v1.7h-1.5zM79.2 109.0h1.5v1.7h-1.5zM112.6 109.0h1.5v1.7h-1.5zM114.0 109.0h1.5v1.7h-1.5zM115.5 109.0h1.5v1.7h-1.5zM117.0 109.0h1.5v1.7h-1.5zM124.2 109.0h1.5v1.7h-1.5zM166.2 109.0h1.5v1.7h-1.5zM167.7 109.0h1.5v1.7h-1.5zM169.1 109.0h1.5v1.7h-1.5zM170.6 109.0h1.5v1.7h-1.5zM172.0 109.0h1.5v1.7h-1.5zM173.5 109.0h1.5v1.7h-1.5zM177.8 109.0h1.5v1.7h-1.5zM179.3 109.0h1.5v1.7h-1.5zM180.8 109.0h1.5v1.7h-1.5zM188.0 109.0h1.5v1.7h-1.5zM189.4 109.0h1.5v1.7h-1.5zM218.4 109.0h1.5v1.7h-1.5zM224.2 109.0h1.5v1.7h-1.5zM225.7 109.0h1.5v1.7h-1.5zM227.2 109.0h1.5v1.7h-1.5zM241.7 109.0h1.5v1.7h-1.5zM243.1 109.0h1.5v1.7h-1.5zM244.5 109.0h1.5v1.7h-1.5zM338.8 109.0h1.5v1.7h-1.5zM44.5 110.6h1.5v1.7h-1.5zM50.2 110.6h1.5v1.7h-1.5zM51.7 110.6h1.5v1.7h-1.5zM53.1 110.6h1.5v1.7h-1.5zM130.0 110.6h1.5v1.7h-1.5zM131.4 110.6h1.5v1.7h-1.5zM150.3 110.6h1.5v1.7h-1.5zM151.8 110.6h1.5v1.7h-1.5zM153.2 110.6h1.5v1.7h-1.5zM159.0 110.6h1.5v1.7h-1.5zM160.4 110.6h1.5v1.7h-1.5zM161.9 110.6h1.5v1.7h-1.5zM163.3 110.6h1.5v1.7h-1.5zM167.7 110.6h1.5v1.7h-1.5zM169.1 110.6h1.5v1.7h-1.5zM170.6 110.6h1.5v1.7h-1.5zM172.0 110.6h1.5v1.7h-1.5zM173.5 110.6h1.5v1.7h-1.5zM177.8 110.6h1.5v1.7h-1.5zM179.3 110.6h1.5v1.7h-1.5zM189.4 110.6h1.5v1.7h-1.5zM190.9 110.6h1.5v1.7h-1.5zM192.3 110.6h1.5v1.7h-1.5zM224.2 110.6h1.5v1.7h-1.5zM225.7 110.6h1.5v1.7h-1.5zM230.0 110.6h1.5v1.7h-1.5zM231.5 110.6h1.5v1.7h-1.5zM232.9 110.6h1.5v1.7h-1.5zM234.4 110.6h1.5v1.7h-1.5zM235.8 110.6h1.5v1.7h-1.5zM240.2 110.6h1.5v1.7h-1.5zM257.6 110.6h1.5v1.7h-1.5zM112.6 112.3h1.5v1.7h-1.5zM114.0 112.3h1.5v1.7h-1.5zM115.5 112.3h1.5v1.7h-1.5zM130.0 112.3h1.5v1.7h-1.5zM131.4 112.3h1.5v1.7h-1.5zM132.9 112.3h1.5v1.7h-1.5zM134.3 112.3h1.5v1.7h-1.5zM135.8 112.3h1.5v1.7h-1.5zM137.2 112.3h1.5v1.7h-1.5zM141.6 112.3h1.5v1.7h-1.5zM143.1 112.3h1.5v1.7h-1.5zM144.5 112.3h1.5v1.7h-1.5zM163.3 112.3h1.5v1.7h-1.5zM186.5 112.3h1.5v1.7h-1.5zM188.0 112.3h1.5v1.7h-1.5zM189.4 112.3h1.5v1.7h-1.5zM190.9 112.3h1.5v1.7h-1.5zM227.2 112.3h1.5v1.7h-1.5zM228.6 112.3h1.5v1.7h-1.5zM230.0 112.3h1.5v1.7h-1.5zM231.5 112.3h1.5v1.7h-1.5zM232.9 112.3h1.5v1.7h-1.5zM257.6 112.3h1.5v1.7h-1.5zM259.0 112.3h1.5v1.7h-1.5zM321.4 112.3h1.5v1.7h-1.5zM93.8 114.0h1.5v1.7h-1.5zM95.2 114.0h1.5v1.7h-1.5zM117.0 114.0h1.5v1.7h-1.5zM118.4 114.0h1.5v1.7h-1.5zM131.4 114.0h1.5v1.7h-1.5zM132.9 114.0h1.5v1.7h-1.5zM134.3 114.0h1.5v1.7h-1.5zM135.8 114.0h1.5v1.7h-1.5zM144.5 114.0h1.5v1.7h-1.5zM174.9 114.0h1.5v1.7h-1.5zM259.0 114.0h1.5v1.7h-1.5zM82.2 115.7h1.5v1.7h-1.5zM83.6 115.7h1.5v1.7h-1.5zM144.5 115.7h1.5v1.7h-1.5zM145.9 115.7h1.5v1.7h-1.5zM163.3 115.7h1.5v1.7h-1.5zM164.8 115.7h1.5v1.7h-1.5zM172.0 115.7h1.5v1.7h-1.5zM173.5 115.7h1.5v1.7h-1.5zM147.4 120.7h1.5v1.7h-1.5zM127.1 122.4h1.5v1.7h-1.5zM128.6 122.4h1.5v1.7h-1.5zM148.8 122.4h1.5v1.7h-1.5zM150.3 122.4h1.5v1.7h-1.5zM157.6 122.4h1.5v1.7h-1.5zM270.6 122.4h1.5v1.7h-1.5zM74.9 124.0h1.5v1.7h-1.5zM157.6 124.0h1.5v1.7h-1.5zM159.0 124.0h1.5v1.7h-1.5zM185.1 124.0h1.5v1.7h-1.5zM125.6 127.4h1.5v1.7h-1.5zM106.8 129.1h1.5v1.7h-1.5zM108.2 129.1h1.5v1.7h-1.5zM118.4 130.7h1.5v1.7h-1.5zM119.8 130.7h1.5v1.7h-1.5zM151.8 130.7h1.5v1.7h-1.5zM150.3 134.1h1.5v1.7h-1.5zM151.8 134.1h1.5v1.7h-1.5zM260.5 134.1h1.5v1.7h-1.5zM95.2 135.8h1.5v1.7h-1.5zM125.6 139.1h1.5v1.7h-1.5zM92.3 144.1h1.5v1.7h-1.5zM263.4 144.1h1.5v1.7h-1.5zM89.4 147.5h1.5v1.7h-1.5zM283.7 155.9h1.5v1.7h-1.5zM72.0 177.6h1.5v1.7h-1.5zM109.7 177.6h1.5v1.7h-1.5zM76.3 182.7h1.5v1.7h-1.5zM77.8 182.7h1.5v1.7h-1.5zM76.3 184.3h1.5v1.7h-1.5zM61.8 201.1h1.5v1.7h-1.5zM237.3 202.8h1.5v1.7h-1.5zM182.2 206.1h1.5v1.7h-1.5zM203.9 206.1h1.5v1.7h-1.5zM185.1 214.5h1.5v1.7h-1.5zM189.4 224.5h1.5v1.7h-1.5zM140.1 226.2h1.5v1.7h-1.5zM186.5 246.3h1.5v1.7h-1.5z" fill="#0040f0"/>
<path d="M130.0 68.8h1.5v1.7h-1.5zM177.8 68.8h1.5v1.7h-1.5zM134.3 72.1h1.5v1.7h-1.5zM144.5 72.1h1.5v1.7h-1.5zM111.1 73.8h1.5v1.7h-1.5zM112.6 75.5h1.5v1.7h-1.5zM114.0 75.5h1.5v1.7h-1.5zM117.0 77.1h1.5v1.7h-1.5zM166.2 77.1h1.5v1.7h-1.5zM167.7 77.1h1.5v1.7h-1.5zM102.4 78.8h1.5v1.7h-1.5zM205.4 78.8h1.5v1.7h-1.5zM122.8 80.5h1.5v1.7h-1.5zM124.2 80.5h1.5v1.7h-1.5zM125.6 82.2h1.5v1.7h-1.5zM188.0 85.5h1.5v1.7h-1.5zM95.2 88.8h1.5v1.7h-1.5zM114.0 88.8h1.5v1.7h-1.5zM115.5 88.8h1.5v1.7h-1.5zM150.3 88.8h1.5v1.7h-1.5zM112.6 90.5h1.5v1.7h-1.5zM114.0 90.5h1.5v1.7h-1.5zM115.5 90.5h1.5v1.7h-1.5zM148.8 90.5h1.5v1.7h-1.5zM44.5 93.9h1.5v1.7h-1.5zM45.9 93.9h1.5v1.7h-1.5zM47.4 93.9h1.5v1.7h-1.5zM101.0 93.9h1.5v1.7h-1.5zM102.4 93.9h1.5v1.7h-1.5zM131.4 93.9h1.5v1.7h-1.5zM177.8 93.9h1.5v1.7h-1.5zM188.0 93.9h1.5v1.7h-1.5zM190.9 93.9h1.5v1.7h-1.5zM85.0 95.6h1.5v1.7h-1.5zM86.5 95.6h1.5v1.7h-1.5zM130.0 95.6h1.5v1.7h-1.5zM132.9 95.6h1.5v1.7h-1.5zM145.9 95.6h1.5v1.7h-1.5zM166.2 95.6h1.5v1.7h-1.5zM189.4 95.6h1.5v1.7h-1.5zM215.5 95.6h1.5v1.7h-1.5zM369.2 95.6h1.5v1.7h-1.5zM372.1 95.6h1.5v1.7h-1.5zM472.2 95.6h1.5v1.7h-1.5zM163.3 97.2h1.5v1.7h-1.5zM166.2 97.2h1.5v1.7h-1.5zM370.7 97.2h1.5v1.7h-1.5zM108.2 98.9h1.5v1.7h-1.5zM161.9 98.9h1.5v1.7h-1.5zM254.7 98.9h1.5v1.7h-1.5zM257.6 98.9h1.5v1.7h-1.5zM369.2 98.9h1.5v1.7h-1.5zM370.7 98.9h1.5v1.7h-1.5zM64.8 100.6h1.5v1.7h-1.5zM70.5 100.6h1.5v1.7h-1.5zM135.8 100.6h1.5v1.7h-1.5zM137.2 100.6h1.5v1.7h-1.5zM150.3 100.6h1.5v1.7h-1.5zM151.8 100.6h1.5v1.7h-1.5zM163.3 100.6h1.5v1.7h-1.5zM166.2 100.6h1.5v1.7h-1.5zM201.0 100.6h1.5v1.7h-1.5zM248.9 100.6h1.5v1.7h-1.5zM250.3 100.6h1.5v1.7h-1.5zM330.1 100.6h1.5v1.7h-1.5zM366.3 100.6h1.5v1.7h-1.5zM367.8 100.6h1.5v1.7h-1.5zM379.4 100.6h1.5v1.7h-1.5zM473.6 100.6h1.5v1.7h-1.5zM66.2 102.2h1.5v1.7h-1.5zM69.1 102.2h1.5v1.7h-1.5zM105.3 102.2h1.5v1.7h-1.5zM180.8 102.2h1.5v1.7h-1.5zM193.8 102.2h1.5v1.7h-1.5zM195.2 102.2h1.5v1.7h-1.5zM211.2 102.2h1.5v1.7h-1.5zM212.7 102.2h1.5v1.7h-1.5zM473.6 102.2h1.5v1.7h-1.5zM475.1 102.2h1.5v1.7h-1.5zM44.5 103.9h1.5v1.7h-1.5zM45.9 103.9h1.5v1.7h-1.5zM69.1 103.9h1.5v1.7h-1.5zM77.8 103.9h1.5v1.7h-1.5zM85.0 103.9h1.5v1.7h-1.5zM106.8 103.9h1.5v1.7h-1.5zM114.0 103.9h1.5v1.7h-1.5zM117.0 103.9h1.5v1.7h-1.5zM180.8 103.9h1.5v1.7h-1.5zM248.9 103.9h1.5v1.7h-1.5zM250.3 103.9h1.5v1.7h-1.5zM251.8 103.9h1.5v1.7h-1.5zM463.5 103.9h1.5v1.7h-1.5zM464.9 103.9h1.5v1.7h-1.5zM466.4 103.9h1.5v1.7h-1.5zM44.5 105.6h1.5v1.7h-1.5zM45.9 105.6h1.5v1.7h-1.5zM67.7 105.6h1.5v1.7h-1.5zM85.0 105.6h1.5v1.7h-1.5zM89.4 105.6h1.5v1.7h-1.5zM90.8 105.6h1.5v1.7h-1.5zM95.2 105.6h1.5v1.7h-1.5zM99.5 105.6h1.5v1.7h-1.5zM115.5 105.6h1.5v1.7h-1.5zM117.0 105.6h1.5v1.7h-1.5zM121.3 105.6h1.5v1.7h-1.5zM132.9 105.6h1.5v1.7h-1.5zM174.9 105.6h1.5v1.7h-1.5zM192.3 105.6h1.5v1.7h-1.5zM199.6 105.6h1.5v1.7h-1.5zM211.2 105.6h1.5v1.7h-1.5zM466.4 105.6h1.5v1.7h-1.5zM467.8 105.6h1.5v1.7h-1.5zM469.3 105.6h1.5v1.7h-1.5zM44.5 107.3h1.5v1.7h-1.5zM45.9 107.3h1.5v1.7h-1.5zM50.2 107.3h1.5v1.7h-1.5zM59.0 107.3h1.5v1.7h-1.5zM60.4 107.3h1.5v1.7h-1.5zM72.0 107.3h1.5v1.7h-1.5zM73.5 107.3h1.5v1.7h-1.5zM85.0 107.3h1.5v1.7h-1.5zM86.5 107.3h1.5v1.7h-1.5zM87.9 107.3h1.5v1.7h-1.5zM89.4 107.3h1.5v1.7h-1.5zM101.0 107.3h1.5v1.7h-1.5zM102.4 107.3h1.5v1.7h-1.5zM103.9 107.3h1.5v1.7h-1.5zM186.5 107.3h1.5v1.7h-1.5zM195.2 107.3h1.5v1.7h-1.5zM211.2 107.3h1.5v1.7h-1.5zM219.9 107.3h1.5v1.7h-1.5zM222.8 107.3h1.5v1.7h-1.5zM234.4 107.3h1.5v1.7h-1.5zM240.2 107.3h1.5v1.7h-1.5zM273.5 107.3h1.5v1.7h-1.5zM322.8 107.3h1.5v1.7h-1.5zM467.8 107.3h1.5v1.7h-1.5zM50.2 109.0h1.5v1.7h-1.5zM76.3 109.0h1.5v1.7h-1.5zM93.8 109.0h1.5v1.7h-1.5zM95.2 109.0h1.5v1.7h-1.5zM96.7 109.0h1.5v1.7h-1.5zM98.1 109.0h1.5v1.7h-1.5zM122.8 109.0h1.5v1.7h-1.5zM174.9 109.0h1.5v1.7h-1.5zM176.4 109.0h1.5v1.7h-1.5zM182.2 109.0h1.5v1.7h-1.5zM211.2 109.0h1.5v1.7h-1.5zM212.7 109.0h1.5v1.7h-1.5zM217.0 109.0h1.5v1.7h-1.5zM228.6 109.0h1.5v1.7h-1.5zM240.2 109.0h1.5v1.7h-1.5zM251.8 109.0h1.5v1.7h-1.5zM253.2 109.0h1.5v1.7h-1.5zM254.7 109.0h1.5v1.7h-1.5zM256.1 109.0h1.5v1.7h-1.5zM257.6 109.0h1.5v1.7h-1.5zM45.9 110.6h1.5v1.7h-1.5zM85.0 110.6h1.5v1.7h-1.5zM86.5 110.6h1.5v1.7h-1.5zM117.0 110.6h1.5v1.7h-1.5zM125.6 110.6h1.5v1.7h-1.5zM127.1 110.6h1.5v1.7h-1.5zM134.3 110.6h1.5v1.7h-1.5zM154.6 110.6h1.5v1.7h-1.5zM156.1 110.6h1.5v1.7h-1.5zM157.6 110.6h1.5v1.7h-1.5zM174.9 110.6h1.5v1.7h-1.5zM180.8 110.6h1.5v1.7h-1.5zM188.0 110.6h1.5v1.7h-1.5zM196.7 110.6h1.5v1.7h-1.5zM241.7 110.6h1.5v1.7h-1.5zM246.0 110.6h1.5v1.7h-1.5zM346.1 110.6h1.5v1.7h-1.5zM347.5 110.6h1.5v1.7h-1.5zM350.4 110.6h1.5v1.7h-1.5zM351.8 110.6h1.5v1.7h-1.5zM353.3 110.6h1.5v1.7h-1.5zM90.8 112.3h1.5v1.7h-1.5zM101.0 112.3h1.5v1.7h-1.5zM102.4 112.3h1.5v1.7h-1.5zM103.9 112.3h1.5v1.7h-1.5zM117.0 112.3h1.5v1.7h-1.5zM118.4 112.3h1.5v1.7h-1.5zM138.7 112.3h1.5v1.7h-1.5zM151.8 112.3h1.5v1.7h-1.5zM161.9 112.3h1.5v1.7h-1.5zM164.8 112.3h1.5v1.7h-1.5zM173.5 112.3h1.5v1.7h-1.5zM174.9 112.3h1.5v1.7h-1.5zM180.8 112.3h1.5v1.7h-1.5zM182.2 112.3h1.5v1.7h-1.5zM224.2 112.3h1.5v1.7h-1.5zM225.7 112.3h1.5v1.7h-1.5zM244.5 112.3h1.5v1.7h-1.5zM246.0 112.3h1.5v1.7h-1.5zM247.4 112.3h1.5v1.7h-1.5zM130.0 114.0h1.5v1.7h-1.5zM137.2 114.0h1.5v1.7h-1.5zM145.9 114.0h1.5v1.7h-1.5zM182.2 114.0h1.5v1.7h-1.5zM219.9 114.0h1.5v1.7h-1.5zM221.3 114.0h1.5v1.7h-1.5zM222.8 114.0h1.5v1.7h-1.5zM224.2 114.0h1.5v1.7h-1.5zM264.9 114.0h1.5v1.7h-1.5zM266.3 114.0h1.5v1.7h-1.5zM344.6 114.0h1.5v1.7h-1.5zM367.8 114.0h1.5v1.7h-1.5zM124.2 115.7h1.5v1.7h-1.5zM125.6 115.7h1.5v1.7h-1.5zM132.9 115.7h1.5v1.7h-1.5zM134.3 115.7h1.5v1.7h-1.5zM135.8 115.7h1.5v1.7h-1.5zM137.2 115.7h1.5v1.7h-1.5zM266.3 115.7h1.5v1.7h-1.5zM272.1 115.7h1.5v1.7h-1.5zM273.5 115.7h1.5v1.7h-1.5zM140.1 117.3h1.5v1.7h-1.5zM141.6 117.3h1.5v1.7h-1.5zM102.4 120.7h1.5v1.7h-1.5zM103.9 120.7h1.5v1.7h-1.5zM105.3 120.7h1.5v1.7h-1.5zM119.8 120.7h1.5v1.7h-1.5zM92.3 122.4h1.5v1.7h-1.5zM93.8 122.4h1.5v1.7h-1.5zM95.2 122.4h1.5v1.7h-1.5zM103.9 122.4h1.5v1.7h-1.5zM119.8 122.4h1.5v1.7h-1.5zM205.4 122.4h1.5v1.7h-1.5zM206.8 122.4h1.5v1.7h-1.5zM257.6 122.4h1.5v1.7h-1.5zM272.1 122.4h1.5v1.7h-1.5zM273.5 122.4h1.5v1.7h-1.5zM206.8 124.0h1.5v1.7h-1.5zM228.6 124.0h1.5v1.7h-1.5zM230.0 124.0h1.5v1.7h-1.5zM259.0 124.0h1.5v1.7h-1.5zM264.9 124.0h1.5v1.7h-1.5zM141.6 125.7h1.5v1.7h-1.5zM143.1 125.7h1.5v1.7h-1.5zM261.9 125.7h1.5v1.7h-1.5zM263.4 125.7h1.5v1.7h-1.5zM183.7 127.4h1.5v1.7h-1.5zM235.8 127.4h1.5v1.7h-1.5zM145.9 129.1h1.5v1.7h-1.5zM193.8 129.1h1.5v1.7h-1.5zM195.2 129.1h1.5v1.7h-1.5zM196.7 129.1h1.5v1.7h-1.5zM198.2 129.1h1.5v1.7h-1.5zM199.6 129.1h1.5v1.7h-1.5zM114.0 132.4h1.5v1.7h-1.5zM115.5 132.4h1.5v1.7h-1.5zM254.7 132.4h1.5v1.7h-1.5zM112.6 134.1h1.5v1.7h-1.5zM114.0 134.1h1.5v1.7h-1.5zM122.8 135.8h1.5v1.7h-1.5zM124.2 135.8h1.5v1.7h-1.5zM125.6 135.8h1.5v1.7h-1.5zM253.2 135.8h1.5v1.7h-1.5zM254.7 135.8h1.5v1.7h-1.5zM325.8 137.4h1.5v1.7h-1.5zM263.4 139.1h1.5v1.7h-1.5zM264.9 139.1h1.5v1.7h-1.5zM135.8 140.8h1.5v1.7h-1.5zM90.8 187.7h1.5v1.7h-1.5zM45.9 191.0h1.5v1.7h-1.5zM51.7 197.7h1.5v1.7h-1.5zM93.8 232.9h1.5v1.7h-1.5z" fill="#0096f5"/>
<path d="M132.9 72.1h1.5v1.7h-1.5zM193.8 78.8h1.5v1.7h-1.5zM195.2 78.8h1.5v1.7h-1.5zM148.8 88.8h1.5v1.7h-1.5zM189.4 93.9h1.5v1.7h-1.5zM131.4 95.6h1.5v1.7h-1.5zM370.7 95.6h1.5v1.7h-1.5zM164.8 97.2h1.5v1.7h-1.5zM372.1 97.2h1.5v1.7h-1.5zM106.8 98.9h1.5v1.7h-1.5zM163.3 98.9h1.5v1.7h-1.5zM164.8 98.9h1.5v1.7h-1.5zM199.6 98.9h1.5v1.7h-1.5zM201.0 98.9h1.5v1.7h-1.5zM202.5 98.9h1.5v1.7h-1.5zM203.9 98.9h1.5v1.7h-1.5zM256.1 98.9h1.5v1.7h-1.5zM61.8 100.6h1.5v1.7h-1.5zM63.3 100.6h1.5v1.7h-1.5zM77.8 100.6h1.5v1.7h-1.5zM164.8 100.6h1.5v1.7h-1.5zM202.5 100.6h1.5v1.7h-1.5zM203.9 100.6h1.5v1.7h-1.5zM205.4 100.6h1.5v1.7h-1.5zM206.8 100.6h1.5v1.7h-1.5zM208.3 100.6h1.5v1.7h-1.5zM59.0 102.2h1.5v1.7h-1.5zM60.4 102.2h1.5v1.7h-1.5zM61.8 102.2h1.5v1.7h-1.5zM63.3 102.2h1.5v1.7h-1.5zM64.8 102.2h1.5v1.7h-1.5zM70.5 102.2h1.5v1.7h-1.5zM117.0 102.2h1.5v1.7h-1.5zM177.8 102.2h1.5v1.7h-1.5zM179.3 102.2h1.5v1.7h-1.5zM209.8 102.2h1.5v1.7h-1.5zM247.4 102.2h1.5v1.7h-1.5zM248.9 102.2h1.5v1.7h-1.5zM250.3 102.2h1.5v1.7h-1.5zM50.2 103.9h1.5v1.7h-1.5zM51.7 103.9h1.5v1.7h-1.5zM53.1 103.9h1.5v1.7h-1.5zM54.6 103.9h1.5v1.7h-1.5zM56.0 103.9h1.5v1.7h-1.5zM57.5 103.9h1.5v1.7h-1.5zM59.0 103.9h1.5v1.7h-1.5zM60.4 103.9h1.5v1.7h-1.5zM118.4 103.9h1.5v1.7h-1.5zM119.8 103.9h1.5v1.7h-1.5zM176.4 103.9h1.5v1.7h-1.5zM177.8 103.9h1.5v1.7h-1.5zM179.3 103.9h1.5v1.7h-1.5zM246.0 103.9h1.5v1.7h-1.5zM247.4 103.9h1.5v1.7h-1.5zM118.4 105.6h1.5v1.7h-1.5zM119.8 105.6h1.5v1.7h-1.5zM260.5 107.3h1.5v1.7h-1.5zM132.9 109.0h1.5v1.7h-1.5zM147.4 109.0h1.5v1.7h-1.5zM148.8 109.0h1.5v1.7h-1.5zM264.9 109.0h1.5v1.7h-1.5zM266.3 109.0h1.5v1.7h-1.5zM264.9 110.6h1.5v1.7h-1.5zM266.3 110.6h1.5v1.7h-1.5zM348.9 110.6h1.5v1.7h-1.5zM266.3 112.3h1.5v1.7h-1.5zM267.8 122.4h1.5v1.7h-1.5zM269.2 122.4h1.5v1.7h-1.5zM260.5 124.0h1.5v1.7h-1.5zM261.9 124.0h1.5v1.7h-1.5zM263.4 124.0h1.5v1.7h-1.5zM269.2 124.0h1.5v1.7h-1.5zM269.2 125.7h1.5v1.7h-1.5zM324.3 137.4h1.5v1.7h-1.5z" fill="#00fff0"/>
<path d="M440.3 100.6h1.5v1.7h-1.5zM450.4 105.6h1.5v1.7h-1.5zM79.2 122.4h1.5v1.7h-1.5zM466.4 124.0h1.5v1.7h-1.5zM467.8 124.0h1.5v1.7h-1.5zM167.7 130.7h1.5v1.7h-1.5zM169.1 130.7h1.5v1.7h-1.5zM170.6 130.7h1.5v1.7h-1.5zM174.9 137.4h1.5v1.7h-1.5zM157.6 139.1h1.5v1.7h-1.5zM177.8 139.1h1.5v1.7h-1.5zM153.2 140.8h1.5v1.7h-1.5zM154.6 140.8h1.5v1.7h-1.5zM177.8 140.8h1.5v1.7h-1.5zM182.2 142.4h1.5v1.7h-1.5zM183.7 142.4h1.5v1.7h-1.5zM254.7 144.1h1.5v1.7h-1.5zM256.1 144.1h1.5v1.7h-1.5zM257.6 144.1h1.5v1.7h-1.5zM259.0 144.1h1.5v1.7h-1.5zM254.7 145.8h1.5v1.7h-1.5zM256.1 145.8h1.5v1.7h-1.5zM257.6 145.8h1.5v1.7h-1.5zM259.0 145.8h1.5v1.7h-1.5zM254.7 149.2h1.5v1.7h-1.5zM256.1 149.2h1.5v1.7h-1.5zM201.0 154.2h1.5v1.7h-1.5zM270.6 154.2h1.5v1.7h-1.5zM272.1 154.2h1.5v1.7h-1.5zM160.4 157.5h1.5v1.7h-1.5zM128.6 159.2h1.5v1.7h-1.5zM131.4 159.2h1.5v1.7h-1.5zM132.9 159.2h1.5v1.7h-1.5zM151.8 159.2h1.5v1.7h-1.5zM198.2 159.2h1.5v1.7h-1.5zM128.6 160.9h1.5v1.7h-1.5zM130.0 160.9h1.5v1.7h-1.5zM132.9 160.9h1.5v1.7h-1.5zM134.3 160.9h1.5v1.7h-1.5zM127.1 162.6h1.5v1.7h-1.5zM128.6 162.6h1.5v1.7h-1.5zM182.2 164.2h1.5v1.7h-1.5zM192.3 164.2h1.5v1.7h-1.5zM156.1 165.9h1.5v1.7h-1.5zM157.6 165.9h1.5v1.7h-1.5zM159.0 165.9h1.5v1.7h-1.5zM179.3 165.9h1.5v1.7h-1.5zM183.7 165.9h1.5v1.7h-1.5zM186.5 167.6h1.5v1.7h-1.5zM203.9 170.9h1.5v1.7h-1.5zM225.7 186.0h1.5v1.7h-1.5zM183.7 187.7h1.5v1.7h-1.5zM176.4 191.0h1.5v1.7h-1.5zM183.7 202.8h1.5v1.7h-1.5zM185.1 202.8h1.5v1.7h-1.5zM125.6 219.5h1.5v1.7h-1.5zM189.4 232.9h1.5v1.7h-1.5zM190.9 232.9h1.5v1.7h-1.5zM189.4 234.6h1.5v1.7h-1.5zM190.9 234.6h1.5v1.7h-1.5zM192.3 234.6h1.5v1.7h-1.5zM189.4 237.9h1.5v1.7h-1.5zM189.4 239.6h1.5v1.7h-1.5zM190.9 239.6h1.5v1.7h-1.5zM192.3 239.6h1.5v1.7h-1.5zM202.5 241.3h1.5v1.7h-1.5zM203.9 241.3h1.5v1.7h-1.5zM189.4 246.3h1.5v1.7h-1.5z" fill="#00ff3c"/>
<path d="M69.1 130.7h1.5v1.7h-1.5zM48.8 137.4h1.5v1.7h-1.5zM93.8 139.1h1.5v1.7h-1.5zM47.4 140.8h1.5v1.7h-1.5zM48.8 140.8h1.5v1.7h-1.5zM103.9 140.8h1.5v1.7h-1.5zM105.3 140.8h1.5v1.7h-1.5zM106.8 140.8h1.5v1.7h-1.5zM241.7 140.8h1.5v1.7h-1.5zM98.1 142.4h1.5v1.7h-1.5zM79.2 145.8h1.5v1.7h-1.5zM80.7 145.8h1.5v1.7h-1.5zM82.2 145.8h1.5v1.7h-1.5zM243.1 145.8h1.5v1.7h-1.5zM93.8 149.2h1.5v1.7h-1.5zM102.4 149.2h1.5v1.7h-1.5zM125.6 149.2h1.5v1.7h-1.5zM145.9 149.2h1.5v1.7h-1.5zM105.3 152.5h1.5v1.7h-1.5zM93.8 157.5h1.5v1.7h-1.5zM93.8 159.2h1.5v1.7h-1.5zM95.2 159.2h1.5v1.7h-1.5zM96.7 160.9h1.5v1.7h-1.5zM105.3 160.9h1.5v1.7h-1.5zM57.5 162.6h1.5v1.7h-1.5zM101.0 162.6h1.5v1.7h-1.5zM102.4 162.6h1.5v1.7h-1.5zM103.9 162.6h1.5v1.7h-1.5zM105.3 162.6h1.5v1.7h-1.5zM257.6 162.6h1.5v1.7h-1.5zM63.3 167.6h1.5v1.7h-1.5zM235.8 167.6h1.5v1.7h-1.5zM237.3 167.6h1.5v1.7h-1.5zM205.4 170.9h1.5v1.7h-1.5zM70.5 172.6h1.5v1.7h-1.5zM72.0 172.6h1.5v1.7h-1.5zM115.5 172.6h1.5v1.7h-1.5zM64.8 174.3h1.5v1.7h-1.5zM66.2 174.3h1.5v1.7h-1.5zM86.5 174.3h1.5v1.7h-1.5zM87.9 174.3h1.5v1.7h-1.5zM89.4 174.3h1.5v1.7h-1.5zM64.8 175.9h1.5v1.7h-1.5zM66.2 175.9h1.5v1.7h-1.5zM67.7 175.9h1.5v1.7h-1.5zM72.0 175.9h1.5v1.7h-1.5zM217.0 175.9h1.5v1.7h-1.5zM240.2 175.9h1.5v1.7h-1.5zM208.3 177.6h1.5v1.7h-1.5zM209.8 177.6h1.5v1.7h-1.5zM228.6 177.6h1.5v1.7h-1.5zM240.2 177.6h1.5v1.7h-1.5zM208.3 179.3h1.5v1.7h-1.5zM209.8 179.3h1.5v1.7h-1.5zM211.2 179.3h1.5v1.7h-1.5zM217.0 181.0h1.5v1.7h-1.5zM56.0 202.8h1.5v1.7h-1.5zM57.5 202.8h1.5v1.7h-1.5zM188.0 207.8h1.5v1.7h-1.5zM189.4 207.8h1.5v1.7h-1.5zM203.9 207.8h1.5v1.7h-1.5zM66.2 211.1h1.5v1.7h-1.5zM174.9 219.5h1.5v1.7h-1.5zM176.4 221.2h1.5v1.7h-1.5zM177.8 221.2h1.5v1.7h-1.5zM177.8 222.8h1.5v1.7h-1.5zM182.2 246.3h1.5v1.7h-1.5z" fill="#b4ff3c"/>
<path d="M454.8 90.5h1.5v1.7h-1.5zM446.1 92.2h1.5v1.7h-1.5zM441.8 97.2h1.5v1.7h-1.5zM457.7 112.3h1.5v1.7h-1.5zM459.1 112.3h1.5v1.7h-1.5zM462.1 115.7h1.5v1.7h-1.5zM66.2 124.0h1.5v1.7h-1.5zM67.7 124.0h1.5v1.7h-1.5zM462.1 124.0h1.5v1.7h-1.5zM47.4 125.7h1.5v1.7h-1.5zM66.2 125.7h1.5v1.7h-1.5zM67.7 125.7h1.5v1.7h-1.5zM69.1 125.7h1.5v1.7h-1.5zM92.3 125.7h1.5v1.7h-1.5zM93.8 125.7h1.5v1.7h-1.5zM95.2 125.7h1.5v1.7h-1.5zM57.5 127.4h1.5v1.7h-1.5zM202.5 139.1h1.5v1.7h-1.5zM203.9 139.1h1.5v1.7h-1.5zM124.2 140.8h1.5v1.7h-1.5zM125.6 140.8h1.5v1.7h-1.5zM127.1 140.8h1.5v1.7h-1.5zM202.5 140.8h1.5v1.7h-1.5zM203.9 140.8h1.5v1.7h-1.5zM154.6 144.1h1.5v1.7h-1.5zM251.8 147.5h1.5v1.7h-1.5zM150.3 150.8h1.5v1.7h-1.5zM182.2 150.8h1.5v1.7h-1.5zM119.8 152.5h1.5v1.7h-1.5zM121.3 152.5h1.5v1.7h-1.5zM122.8 152.5h1.5v1.7h-1.5zM153.2 154.2h1.5v1.7h-1.5zM189.4 159.2h1.5v1.7h-1.5zM190.9 159.2h1.5v1.7h-1.5zM140.1 164.2h1.5v1.7h-1.5zM144.5 165.9h1.5v1.7h-1.5zM56.0 172.6h1.5v1.7h-1.5zM192.3 177.6h1.5v1.7h-1.5zM193.8 177.6h1.5v1.7h-1.5zM195.2 177.6h1.5v1.7h-1.5zM238.8 181.0h1.5v1.7h-1.5zM185.1 182.7h1.5v1.7h-1.5zM203.9 182.7h1.5v1.7h-1.5zM205.4 182.7h1.5v1.7h-1.5zM206.8 182.7h1.5v1.7h-1.5zM208.3 182.7h1.5v1.7h-1.5zM209.8 184.3h1.5v1.7h-1.5zM199.6 187.7h1.5v1.7h-1.5zM199.6 189.3h1.5v1.7h-1.5zM235.8 189.3h1.5v1.7h-1.5zM237.3 189.3h1.5v1.7h-1.5zM185.1 191.0h1.5v1.7h-1.5zM186.5 191.0h1.5v1.7h-1.5zM190.9 191.0h1.5v1.7h-1.5zM276.4 192.7h1.5v1.7h-1.5zM176.4 194.4h1.5v1.7h-1.5zM196.7 194.4h1.5v1.7h-1.5zM163.3 197.7h1.5v1.7h-1.5zM164.8 197.7h1.5v1.7h-1.5zM82.2 199.4h1.5v1.7h-1.5zM83.6 199.4h1.5v1.7h-1.5zM148.8 201.1h1.5v1.7h-1.5zM150.3 201.1h1.5v1.7h-1.5zM80.7 202.8h1.5v1.7h-1.5zM82.2 202.8h1.5v1.7h-1.5zM159.0 204.4h1.5v1.7h-1.5zM160.4 204.4h1.5v1.7h-1.5zM169.1 204.4h1.5v1.7h-1.5zM183.7 206.1h1.5v1.7h-1.5zM157.6 209.5h1.5v1.7h-1.5zM141.6 212.8h1.5v1.7h-1.5zM143.1 212.8h1.5v1.7h-1.5zM183.7 212.8h1.5v1.7h-1.5zM185.1 212.8h1.5v1.7h-1.5zM79.2 214.5h1.5v1.7h-1.5zM131.4 216.2h1.5v1.7h-1.5zM132.9 216.2h1.5v1.7h-1.5zM186.5 216.2h1.5v1.7h-1.5zM188.0 216.2h1.5v1.7h-1.5zM195.2 217.8h1.5v1.7h-1.5zM201.0 217.8h1.5v1.7h-1.5zM185.1 219.5h1.5v1.7h-1.5zM186.5 219.5h1.5v1.7h-1.5zM188.0 219.5h1.5v1.7h-1.5zM189.4 219.5h1.5v1.7h-1.5zM212.7 221.2h1.5v1.7h-1.5zM214.1 221.2h1.5v1.7h-1.5zM215.5 221.2h1.5v1.7h-1.5zM217.0 221.2h1.5v1.7h-1.5zM206.8 222.8h1.5v1.7h-1.5zM208.3 222.8h1.5v1.7h-1.5zM217.0 222.8h1.5v1.7h-1.5zM218.4 222.8h1.5v1.7h-1.5zM219.9 222.8h1.5v1.7h-1.5zM128.6 227.9h1.5v1.7h-1.5zM66.2 229.6h1.5v1.7h-1.5zM67.7 229.6h1.5v1.7h-1.5zM202.5 232.9h1.5v1.7h-1.5zM73.5 237.9h1.5v1.7h-1.5zM77.8 237.9h1.5v1.7h-1.5zM79.2 237.9h1.5v1.7h-1.5zM87.9 239.6h1.5v1.7h-1.5zM102.4 241.3h1.5v1.7h-1.5zM108.2 241.3h1.5v1.7h-1.5zM109.7 241.3h1.5v1.7h-1.5zM111.1 241.3h1.5v1.7h-1.5zM109.7 243.0h1.5v1.7h-1.5zM114.0 243.0h1.5v1.7h-1.5zM115.5 243.0h1.5v1.7h-1.5zM117.0 243.0h1.5v1.7h-1.5zM106.8 244.6h1.5v1.7h-1.5zM108.2 244.6h1.5v1.7h-1.5zM109.7 244.6h1.5v1.7h-1.5z" fill="#ffeb32"/>
<path d="M44.5 134.1h1.5v1.7h-1.5zM59.0 134.1h1.5v1.7h-1.5zM102.4 135.8h1.5v1.7h-1.5zM86.5 137.4h1.5v1.7h-1.5zM102.4 137.4h1.5v1.7h-1.5zM76.3 139.1h1.5v1.7h-1.5zM108.2 144.1h1.5v1.7h-1.5zM109.7 144.1h1.5v1.7h-1.5zM215.5 144.1h1.5v1.7h-1.5zM217.0 144.1h1.5v1.7h-1.5zM237.3 144.1h1.5v1.7h-1.5zM238.8 144.1h1.5v1.7h-1.5zM108.2 145.8h1.5v1.7h-1.5zM109.7 145.8h1.5v1.7h-1.5zM111.1 145.8h1.5v1.7h-1.5zM166.2 147.5h1.5v1.7h-1.5zM167.7 147.5h1.5v1.7h-1.5zM169.1 147.5h1.5v1.7h-1.5zM230.0 154.2h1.5v1.7h-1.5zM230.0 155.9h1.5v1.7h-1.5zM232.9 155.9h1.5v1.7h-1.5zM234.4 155.9h1.5v1.7h-1.5zM235.8 155.9h1.5v1.7h-1.5zM237.3 155.9h1.5v1.7h-1.5zM225.7 157.5h1.5v1.7h-1.5zM237.3 157.5h1.5v1.7h-1.5zM238.8 157.5h1.5v1.7h-1.5zM225.7 159.2h1.5v1.7h-1.5zM115.5 164.2h1.5v1.7h-1.5zM117.0 164.2h1.5v1.7h-1.5zM128.6 164.2h1.5v1.7h-1.5zM130.0 164.2h1.5v1.7h-1.5zM127.1 165.9h1.5v1.7h-1.5zM128.6 165.9h1.5v1.7h-1.5zM243.1 165.9h1.5v1.7h-1.5zM121.3 167.6h1.5v1.7h-1.5zM153.2 167.6h1.5v1.7h-1.5zM154.6 167.6h1.5v1.7h-1.5zM256.1 167.6h1.5v1.7h-1.5zM257.6 167.6h1.5v1.7h-1.5zM259.0 167.6h1.5v1.7h-1.5zM260.5 167.6h1.5v1.7h-1.5zM182.2 169.2h1.5v1.7h-1.5zM183.7 169.2h1.5v1.7h-1.5zM134.3 170.9h1.5v1.7h-1.5zM148.8 170.9h1.5v1.7h-1.5zM150.3 170.9h1.5v1.7h-1.5zM151.8 170.9h1.5v1.7h-1.5zM153.2 170.9h1.5v1.7h-1.5zM154.6 170.9h1.5v1.7h-1.5zM54.6 172.6h1.5v1.7h-1.5zM122.8 172.6h1.5v1.7h-1.5zM124.2 172.6h1.5v1.7h-1.5zM125.6 172.6h1.5v1.7h-1.5zM134.3 172.6h1.5v1.7h-1.5zM135.8 172.6h1.5v1.7h-1.5zM122.8 174.3h1.5v1.7h-1.5zM124.2 174.3h1.5v1.7h-1.5zM125.6 174.3h1.5v1.7h-1.5zM132.9 174.3h1.5v1.7h-1.5zM134.3 174.3h1.5v1.7h-1.5zM135.8 174.3h1.5v1.7h-1.5zM144.5 174.3h1.5v1.7h-1.5zM145.9 174.3h1.5v1.7h-1.5zM48.8 175.9h1.5v1.7h-1.5zM50.2 175.9h1.5v1.7h-1.5zM132.9 175.9h1.5v1.7h-1.5zM134.3 175.9h1.5v1.7h-1.5zM157.6 175.9h1.5v1.7h-1.5zM159.0 175.9h1.5v1.7h-1.5zM160.4 175.9h1.5v1.7h-1.5zM172.0 175.9h1.5v1.7h-1.5zM173.5 175.9h1.5v1.7h-1.5zM174.9 175.9h1.5v1.7h-1.5zM176.4 175.9h1.5v1.7h-1.5zM177.8 175.9h1.5v1.7h-1.5zM221.3 177.6h1.5v1.7h-1.5zM144.5 179.3h1.5v1.7h-1.5zM145.9 179.3h1.5v1.7h-1.5zM147.4 179.3h1.5v1.7h-1.5zM166.2 179.3h1.5v1.7h-1.5zM167.7 179.3h1.5v1.7h-1.5zM144.5 181.0h1.5v1.7h-1.5zM145.9 181.0h1.5v1.7h-1.5zM147.4 181.0h1.5v1.7h-1.5zM177.8 182.7h1.5v1.7h-1.5zM179.3 182.7h1.5v1.7h-1.5zM138.7 184.3h1.5v1.7h-1.5zM145.9 184.3h1.5v1.7h-1.5zM147.4 184.3h1.5v1.7h-1.5zM148.8 184.3h1.5v1.7h-1.5zM93.8 186.0h1.5v1.7h-1.5zM95.2 186.0h1.5v1.7h-1.5zM145.9 186.0h1.5v1.7h-1.5zM47.4 187.7h1.5v1.7h-1.5zM93.8 187.7h1.5v1.7h-1.5zM95.2 187.7h1.5v1.7h-1.5zM135.8 187.7h1.5v1.7h-1.5zM51.7 189.3h1.5v1.7h-1.5zM137.2 189.3h1.5v1.7h-1.5zM114.0 191.0h1.5v1.7h-1.5zM115.5 191.0h1.5v1.7h-1.5zM117.0 191.0h1.5v1.7h-1.5zM189.4 191.0h1.5v1.7h-1.5zM115.5 192.7h1.5v1.7h-1.5zM122.8 192.7h1.5v1.7h-1.5zM124.2 192.7h1.5v1.7h-1.5zM138.7 192.7h1.5v1.7h-1.5zM140.1 192.7h1.5v1.7h-1.5zM173.5 192.7h1.5v1.7h-1.5zM186.5 192.7h1.5v1.7h-1.5zM188.0 192.7h1.5v1.7h-1.5zM189.4 192.7h1.5v1.7h-1.5zM190.9 192.7h1.5v1.7h-1.5zM106.8 194.4h1.5v1.7h-1.5zM122.8 194.4h1.5v1.7h-1.5zM124.2 194.4h1.5v1.7h-1.5zM189.4 194.4h1.5v1.7h-1.5zM190.9 194.4h1.5v1.7h-1.5zM206.8 194.4h1.5v1.7h-1.5zM189.4 196.1h1.5v1.7h-1.5zM190.9 196.1h1.5v1.7h-1.5zM102.4 197.7h1.5v1.7h-1.5zM128.6 197.7h1.5v1.7h-1.5zM130.0 197.7h1.5v1.7h-1.5zM140.1 197.7h1.5v1.7h-1.5zM92.3 201.1h1.5v1.7h-1.5zM192.3 201.1h1.5v1.7h-1.5zM193.8 201.1h1.5v1.7h-1.5zM203.9 202.8h1.5v1.7h-1.5zM205.4 202.8h1.5v1.7h-1.5zM174.9 204.4h1.5v1.7h-1.5zM176.4 204.4h1.5v1.7h-1.5zM177.8 204.4h1.5v1.7h-1.5zM90.8 207.8h1.5v1.7h-1.5zM83.6 209.5h1.5v1.7h-1.5zM86.5 209.5h1.5v1.7h-1.5zM72.0 211.1h1.5v1.7h-1.5zM122.8 211.1h1.5v1.7h-1.5zM124.2 211.1h1.5v1.7h-1.5zM70.5 212.8h1.5v1.7h-1.5zM72.0 212.8h1.5v1.7h-1.5zM117.0 212.8h1.5v1.7h-1.5zM118.4 212.8h1.5v1.7h-1.5zM119.8 212.8h1.5v1.7h-1.5zM121.3 212.8h1.5v1.7h-1.5zM121.3 219.5h1.5v1.7h-1.5zM122.8 219.5h1.5v1.7h-1.5zM124.2 219.5h1.5v1.7h-1.5zM118.4 221.2h1.5v1.7h-1.5zM119.8 221.2h1.5v1.7h-1.5zM109.7 222.8h1.5v1.7h-1.5zM111.1 222.8h1.5v1.7h-1.5zM112.6 222.8h1.5v1.7h-1.5zM164.8 222.8h1.5v1.7h-1.5zM106.8 224.5h1.5v1.7h-1.5zM161.9 227.9h1.5v1.7h-1.5zM163.3 227.9h1.5v1.7h-1.5zM47.4 229.6h1.5v1.7h-1.5zM48.8 229.6h1.5v1.7h-1.5zM106.8 229.6h1.5v1.7h-1.5zM108.2 229.6h1.5v1.7h-1.5zM118.4 232.9h1.5v1.7h-1.5zM119.8 232.9h1.5v1.7h-1.5zM121.3 232.9h1.5v1.7h-1.5zM109.7 234.6h1.5v1.7h-1.5zM111.1 234.6h1.5v1.7h-1.5zM112.6 234.6h1.5v1.7h-1.5zM114.0 234.6h1.5v1.7h-1.5zM115.5 234.6h1.5v1.7h-1.5zM117.0 234.6h1.5v1.7h-1.5zM118.4 234.6h1.5v1.7h-1.5zM161.9 234.6h1.5v1.7h-1.5zM163.3 234.6h1.5v1.7h-1.5zM164.8 234.6h1.5v1.7h-1.5zM115.5 236.2h1.5v1.7h-1.5zM182.2 236.2h1.5v1.7h-1.5zM121.3 237.9h1.5v1.7h-1.5zM121.3 239.6h1.5v1.7h-1.5zM122.8 239.6h1.5v1.7h-1.5zM163.3 243.0h1.5v1.7h-1.5zM164.8 243.0h1.5v1.7h-1.5zM161.9 244.6h1.5v1.7h-1.5zM159.0 246.3h1.5v1.7h-1.5zM138.7 248.0h1.5v1.7h-1.5zM140.1 248.0h1.5v1.7h-1.5zM140.1 249.7h1.5v1.7h-1.5zM141.6 249.7h1.5v1.7h-1.5zM143.1 249.7h1.5v1.7h-1.5zM166.2 249.7h1.5v1.7h-1.5z" fill="#ffb42d"/>
<path d="M466.4 110.6h1.5v1.7h-1.5zM454.8 122.4h1.5v1.7h-1.5zM463.5 122.4h1.5v1.7h-1.5zM114.0 142.4h1.5v1.7h-1.5zM192.3 147.5h1.5v1.7h-1.5zM159.0 150.8h1.5v1.7h-1.5zM131.4 155.9h1.5v1.7h-1.5zM124.2 160.9h1.5v1.7h-1.5zM190.9 160.9h1.5v1.7h-1.5zM219.9 160.9h1.5v1.7h-1.5zM228.6 160.9h1.5v1.7h-1.5zM203.9 162.6h1.5v1.7h-1.5zM141.6 164.2h1.5v1.7h-1.5zM256.1 164.2h1.5v1.7h-1.5zM208.3 167.6h1.5v1.7h-1.5zM48.8 170.9h1.5v1.7h-1.5zM50.2 170.9h1.5v1.7h-1.5zM59.0 174.3h1.5v1.7h-1.5zM232.9 175.9h1.5v1.7h-1.5zM186.5 177.6h1.5v1.7h-1.5zM199.6 177.6h1.5v1.7h-1.5zM63.3 184.3h1.5v1.7h-1.5zM66.2 184.3h1.5v1.7h-1.5zM67.7 184.3h1.5v1.7h-1.5zM60.4 186.0h1.5v1.7h-1.5zM61.8 186.0h1.5v1.7h-1.5zM63.3 186.0h1.5v1.7h-1.5zM203.9 186.0h1.5v1.7h-1.5zM59.0 191.0h1.5v1.7h-1.5zM60.4 194.4h1.5v1.7h-1.5zM99.5 201.1h1.5v1.7h-1.5zM174.9 202.8h1.5v1.7h-1.5zM151.8 204.4h1.5v1.7h-1.5zM117.0 206.1h1.5v1.7h-1.5zM118.4 206.1h1.5v1.7h-1.5zM206.8 206.1h1.5v1.7h-1.5zM92.3 207.8h1.5v1.7h-1.5zM103.9 207.8h1.5v1.7h-1.5zM115.5 211.1h1.5v1.7h-1.5zM117.0 211.1h1.5v1.7h-1.5zM60.4 214.5h1.5v1.7h-1.5zM61.8 214.5h1.5v1.7h-1.5zM63.3 214.5h1.5v1.7h-1.5zM124.2 214.5h1.5v1.7h-1.5zM179.3 214.5h1.5v1.7h-1.5zM60.4 216.2h1.5v1.7h-1.5zM99.5 219.5h1.5v1.7h-1.5zM172.0 219.5h1.5v1.7h-1.5zM44.5 221.2h1.5v1.7h-1.5zM45.9 221.2h1.5v1.7h-1.5zM47.4 221.2h1.5v1.7h-1.5zM48.8 224.5h1.5v1.7h-1.5zM50.2 224.5h1.5v1.7h-1.5zM180.8 224.5h1.5v1.7h-1.5zM44.5 226.2h1.5v1.7h-1.5zM98.1 227.9h1.5v1.7h-1.5zM99.5 227.9h1.5v1.7h-1.5zM101.0 227.9h1.5v1.7h-1.5zM192.3 227.9h1.5v1.7h-1.5zM99.5 229.6h1.5v1.7h-1.5zM101.0 229.6h1.5v1.7h-1.5zM102.4 229.6h1.5v1.7h-1.5zM74.9 232.9h1.5v1.7h-1.5zM76.3 232.9h1.5v1.7h-1.5zM118.4 239.6h1.5v1.7h-1.5zM83.6 241.3h1.5v1.7h-1.5zM92.3 241.3h1.5v1.7h-1.5zM93.8 241.3h1.5v1.7h-1.5zM83.6 243.0h1.5v1.7h-1.5zM85.0 243.0h1.5v1.7h-1.5zM86.5 243.0h1.5v1.7h-1.5zM98.1 244.6h1.5v1.7h-1.5zM99.5 244.6h1.5v1.7h-1.5zM101.0 244.6h1.5v1.7h-1.5zM102.4 244.6h1.5v1.7h-1.5zM102.4 246.3h1.5v1.7h-1.5zM103.9 246.3h1.5v1.7h-1.5zM105.3 246.3h1.5v1.7h-1.5zM102.4 248.0h1.5v1.7h-1.5zM103.9 248.0h1.5v1.7h-1.5zM105.3 248.0h1.5v1.7h-1.5zM106.8 248.0h1.5v1.7h-1.5zM108.2 248.0h1.5v1.7h-1.5z" fill="#ff7828"/>
<path d="M63.3 130.7h1.5v1.7h-1.5zM230.0 157.5h1.5v1.7h-1.5zM61.8 177.6h1.5v1.7h-1.5zM147.4 186.0h1.5v1.7h-1.5zM96.7 187.7h1.5v1.7h-1.5zM172.0 187.7h1.5v1.7h-1.5zM167.7 189.3h1.5v1.7h-1.5zM195.2 197.7h1.5v1.7h-1.5zM87.9 199.4h1.5v1.7h-1.5zM89.4 216.2h1.5v1.7h-1.5zM63.3 227.9h1.5v1.7h-1.5zM76.3 229.6h1.5v1.7h-1.5zM82.2 232.9h1.5v1.7h-1.5zM106.8 239.6h1.5v1.7h-1.5zM76.3 241.3h1.5v1.7h-1.5zM96.7 244.6h1.5v1.7h-1.5zM157.6 244.6h1.5v1.7h-1.5z" fill="#ff0a1e"/>
</g>
<path d="M43.0 144.0L55.0 144.0L63.0 143.0L73.0 143.0L83.0 144.0L95.0 146.0L99.6 149.6L102.8 152.0L109.2 152.8L117.2 154.4L122.0 156.0M122.0 156.0L130.0 153.6L138.0 152.0L146.0 151.2L154.0 148.8L155.6 146.4L162.0 146.4L170.0 147.2L173.0 150.4L181.0 152.0L187.4 153.6L196.0 150.0L205.0 145.0L213.0 140.5L223.0 139.0L232.0 140.0L238.6 147.0L246.0 152.5L255.0 157.0L262.0 160.5L267.0 166.0L266.0 170.0L263.0 172.0M122.0 156.0L117.2 159.2L115.6 162.4L110.8 164.0L107.6 167.2L102.8 170.4L101.2 176.8L96.4 180.0L90.0 183.2L84.6 187.6L81.4 192.4L79.8 197.2M122.0 156.0L126.8 157.6L131.6 160.8L133.2 165.6L134.8 168.8L142.8 172.0L149.2 175.2L157.2 177.6L165.2 178.4L174.6 180.8L184.2 176.8L193.8 170.4L205.0 165.6L213.0 163.2L216.2 160.8L213.0 157.6L206.6 159.2L205.0 156.0L196.0 150.0M46.2 170.0L52.6 174.8L59.0 179.6L63.8 182.8L68.6 181.2L75.0 179.6L83.0 176.4L91.0 176.4L102.2 176.4M63.8 182.8L67.0 187.6L70.2 192.4L63.8 194.0L55.8 192.4L49.4 190.8L43.0 189.2M70.2 192.4L78.2 197.2L79.8 200.4L75.0 206.8L71.8 210.0L67.0 214.8L62.2 218.0L55.8 220.0L50.0 222.0L47.0 228.0L46.0 236.0M47.8 190.8L46.2 202.0L47.8 211.6L43.0 214.8M79.8 200.4L84.6 203.6L86.2 210.0L83.0 216.4L81.4 220.0L78.0 226.0L74.0 232.0L70.0 236.0L68.0 240.0M79.8 197.2L87.8 195.6L94.2 200.4L95.8 205.2L99.0 208.4L100.0 213.0L100.0 219.2L106.4 222.4L112.8 225.6L120.8 228.0L125.6 228.8L128.8 227.2L132.0 226.4L138.4 224.0L144.8 220.8L148.0 221.6L152.8 224.0L155.2 227.2L156.0 232.0L157.6 240.0L160.8 248.0L167.2 244.8L173.6 243.2L180.0 246.4L183.0 249.6M100.0 221.6L109.6 228.0L116.0 230.4L125.6 233.6L127.2 238.4L130.4 243.2L132.0 248.0M125.6 233.6L132.0 233.6L134.4 238.4L138.4 241.6L136.8 248.0M132.0 233.6L140.0 230.4L146.4 227.2L152.8 224.0M138.4 241.6L143.2 236.8L148.0 232.0L152.8 228.8M160.8 248.0L162.0 254.0M173.6 243.2L171.0 254.0M240.0 182.0L236.0 186.0L232.0 189.0" fill="none" stroke="#3a3020" stroke-width="0.55" opacity="0.75" stroke-linejoin="round"/>
<path d="M43.0 85.6L55.0 87.5L62.6 88.7L67.5 90.5L64.0 85.6L63.3 82.1L69.6 76.5L73.1 74.1L76.6 75.1L79.5 77.2L79.8 80.0L80.5 84.0L81.5 89.0L79.0 93.5L76.0 97.5L75.5 98.8L78.0 99.0L81.5 96.0L85.0 92.5L86.3 88.0L85.8 84.0L86.5 80.0L87.0 77.5L89.2 81.4L93.4 79.3L99.0 78.6L103.2 75.8L107.4 73.7L113.0 72.5L121.4 69.5L130.0 67.5L141.0 65.3L149.6 65.0L164.0 63.6L172.0 63.0L184.8 63.6L194.4 64.6L198.8 67.0L197.6 68.8L194.4 70.9L188.0 72.5L180.0 74.2L188.0 73.4L196.0 72.6L200.0 73.6L204.0 74.4L211.0 73.7L220.0 75.3L225.0 75.1L227.8 73.0L236.2 74.4L244.6 76.5L246.0 79.3L248.8 82.1L253.0 80.5L260.0 81.4L267.0 80.0L274.0 77.9L288.0 77.2L295.0 77.9L302.0 80.0L309.0 81.2L316.0 82.1L323.0 82.0L331.4 83.5L334.2 86.3L344.0 87.0L350.0 87.0L356.4 86.5L361.2 88.5L364.4 86.4L378.8 87.0L390.0 89.4L396.4 91.0L401.2 93.4L404.4 95.0L410.8 96.6L417.2 98.2L420.4 99.8L414.0 101.4L412.4 104.6L407.6 105.4L402.8 103.0L398.0 100.6L393.2 101.4L390.0 103.0L386.8 104.6L384.4 104.9L386.0 107.8L389.2 111.0L382.8 111.8L376.4 113.4L371.6 114.2L368.4 115.8L365.2 118.2L358.0 120.0L350.0 121.0L344.4 122.0L342.0 124.4L342.8 127.6L341.2 132.4L336.4 138.0L331.6 142.0L328.4 145.2L325.2 148.4L322.8 149.4L322.0 142.0L321.2 134.0L322.0 129.2L326.0 126.0L329.0 123.0L331.0 120.0L333.5 118.0L338.0 117.2L342.8 114.8L344.4 110.8L336.4 112.4L326.8 114.0L320.4 117.2L314.0 119.5L306.0 121.0L298.0 120.5L290.0 120.5L284.0 121.5L280.0 122.4L276.0 125.6L272.8 128.8L270.4 132.0L272.0 136.8L276.0 140.8L278.5 143.5L278.3 145.5L277.0 148.0L276.5 152.0L276.0 155.0L274.0 159.0L271.0 163.0L267.0 168.0L263.0 172.0L259.0 175.0L255.0 176.5L251.0 176.5L247.8 178.6L246.0 181.6L244.2 184.6L240.6 187.0L239.4 188.8L240.6 190.6L243.0 193.6L244.2 196.6L244.2 200.2L243.0 203.2L240.6 204.4L237.6 205.3L235.8 204.4L236.1 201.4L235.8 197.8L236.1 195.7L234.0 194.8L231.6 193.0L232.2 190.0L231.0 187.9L229.0 188.0L225.0 189.0L222.0 190.0L221.5 190.5L223.0 187.0L223.5 184.5L221.0 184.0L218.0 186.0L215.0 188.0L211.0 190.0L211.0 191.5L213.0 194.0L216.0 195.5L220.0 195.5L224.0 196.0L223.0 197.0L219.0 198.6L216.0 200.0L215.5 203.0L217.0 206.0L219.0 209.0L221.0 212.0L222.0 215.0L223.7 218.4L221.5 223.8L221.4 225.0L219.0 229.8L216.6 233.4L214.2 236.4L210.6 239.4L205.8 243.6L201.0 246.0L197.4 246.6L192.6 248.4L189.6 250.8L189.2 254.0L188.2 254.0L187.8 250.8L186.6 249.6L183.0 249.6L179.4 250.8L177.0 254.0L138.8 254.0L137.0 249.8L135.6 246.7L133.8 245.3L131.1 246.7L127.5 247.6L123.9 248.0L121.7 249.4L120.3 254.0L81.0 254.0L80.5 251.0L80.5 246.5L79.0 248.0L77.5 251.0L75.0 250.5L72.0 248.5L70.0 246.0L71.0 244.0L74.0 242.0L76.0 240.0L73.0 239.5L69.0 240.0L67.5 241.0L65.0 239.5L63.0 237.5L61.0 236.0L53.0 236.2L43.0 236.5ZM447.8 84.2L455.2 83.0L462.6 82.3L470.0 83.0L479.0 83.6L479.0 106.0L474.0 108.5L471.5 112.0L470.5 116.0L469.0 119.5L468.8 123.4L472.6 125.0L473.0 129.5L467.0 130.5L464.0 126.5L456.0 126.6L450.4 129.0L444.8 131.4L440.0 133.8L432.0 137.0L425.0 140.3L426.0 141.2L433.0 138.5L440.0 135.4L444.8 133.0L449.6 130.6L454.4 128.2L455.0 125.8L452.0 124.2L444.8 123.4L442.8 120.8L436.6 117.7L431.6 115.2L432.9 111.5L436.6 107.8L442.8 105.3L439.0 104.0L431.6 102.8L427.9 100.9L430.4 99.1L436.6 97.8L442.8 96.6L439.0 94.1L432.9 92.3L431.6 90.4L437.8 89.2L442.8 87.9L447.8 84.8ZM280.5 138.0L283.0 138.5L284.5 143.0L286.0 150.0L287.0 155.0L285.0 160.0L285.5 165.0L284.0 166.0L281.0 165.0L280.5 160.0L281.0 155.0L280.5 150.0L280.0 143.0ZM280.7 168.8L282.9 171.0L286.2 173.2L290.6 173.2L291.7 175.4L287.3 176.5L284.0 178.7L281.8 179.8L278.5 178.7L276.3 177.6L277.4 175.4L279.6 172.1ZM275.2 179.8L277.4 181.5L279.0 183.1L280.7 187.5L280.2 190.8L278.5 195.2L277.4 199.6L276.3 201.8L273.0 202.9L269.7 204.0L266.4 205.1L263.1 207.3L259.8 206.2L256.5 206.2L252.1 206.2L248.8 207.3L246.6 208.4L246.6 207.3L248.8 205.1L252.1 202.9L255.4 201.8L259.8 201.3L264.2 199.6L266.4 196.3L269.7 194.1L273.0 190.8L275.2 186.4L275.2 182.0ZM245.5 208.4L248.8 209.5L251.0 212.8L249.9 216.1L247.7 217.2L246.1 213.9L245.5 210.6ZM253.5 207.6L258.0 207.0L263.0 207.8L261.0 209.8L256.0 210.0L254.0 209.4ZM222.6 236.2L223.8 238.2L222.0 243.0L219.2 246.8L217.8 244.2L219.6 239.4ZM267.0 66.5L271.0 65.3L275.4 66.5L274.0 69.5L268.0 69.8ZM278.0 66.0L284.0 65.5L289.0 66.8L286.0 69.2L280.0 69.3ZM293.6 68.0L300.0 67.4L307.0 68.6L303.0 70.2L295.0 70.0ZM277.0 73.0L281.0 72.3L285.0 73.5L282.0 75.0L278.0 74.8ZM387.4 82.0L392.0 80.8L398.0 81.6L395.0 83.4L389.0 83.4Z" fill="none" stroke="#1030d0" stroke-width="1.3" opacity="0.6"/>
<path d="M43.0 85.6L55.0 87.5L62.6 88.7L67.5 90.5L64.0 85.6L63.3 82.1L69.6 76.5L73.1 74.1L76.6 75.1L79.5 77.2L79.8 80.0L80.5 84.0L81.5 89.0L79.0 93.5L76.0 97.5L75.5 98.8L78.0 99.0L81.5 96.0L85.0 92.5L86.3 88.0L85.8 84.0L86.5 80.0L87.0 77.5L89.2 81.4L93.4 79.3L99.0 78.6L103.2 75.8L107.4 73.7L113.0 72.5L121.4 69.5L130.0 67.5L141.0 65.3L149.6 65.0L164.0 63.6L172.0 63.0L184.8 63.6L194.4 64.6L198.8 67.0L197.6 68.8L194.4 70.9L188.0 72.5L180.0 74.2L188.0 73.4L196.0 72.6L200.0 73.6L204.0 74.4L211.0 73.7L220.0 75.3L225.0 75.1L227.8 73.0L236.2 74.4L244.6 76.5L246.0 79.3L248.8 82.1L253.0 80.5L260.0 81.4L267.0 80.0L274.0 77.9L288.0 77.2L295.0 77.9L302.0 80.0L309.0 81.2L316.0 82.1L323.0 82.0L331.4 83.5L334.2 86.3L344.0 87.0L350.0 87.0L356.4 86.5L361.2 88.5L364.4 86.4L378.8 87.0L390.0 89.4L396.4 91.0L401.2 93.4L404.4 95.0L410.8 96.6L417.2 98.2L420.4 99.8L414.0 101.4L412.4 104.6L407.6 105.4L402.8 103.0L398.0 100.6L393.2 101.4L390.0 103.0L386.8 104.6L384.4 104.9L386.0 107.8L389.2 111.0L382.8 111.8L376.4 113.4L371.6 114.2L368.4 115.8L365.2 118.2L358.0 120.0L350.0 121.0L344.4 122.0L342.0 124.4L342.8 127.6L341.2 132.4L336.4 138.0L331.6 142.0L328.4 145.2L325.2 148.4L322.8 149.4L322.0 142.0L321.2 134.0L322.0 129.2L326.0 126.0L329.0 123.0L331.0 120.0L333.5 118.0L338.0 117.2L342.8 114.8L344.4 110.8L336.4 112.4L326.8 114.0L320.4 117.2L314.0 119.5L306.0 121.0L298.0 120.5L290.0 120.5L284.0 121.5L280.0 122.4L276.0 125.6L272.8 128.8L270.4 132.0L272.0 136.8L276.0 140.8L278.5 143.5L278.3 145.5L277.0 148.0L276.5 152.0L276.0 155.0L274.0 159.0L271.0 163.0L267.0 168.0L263.0 172.0L259.0 175.0L255.0 176.5L251.0 176.5L247.8 178.6L246.0 181.6L244.2 184.6L240.6 187.0L239.4 188.8L240.6 190.6L243.0 193.6L244.2 196.6L244.2 200.2L243.0 203.2L240.6 204.4L237.6 205.3L235.8 204.4L236.1 201.4L235.8 197.8L236.1 195.7L234.0 194.8L231.6 193.0L232.2 190.0L231.0 187.9L229.0 188.0L225.0 189.0L222.0 190.0L221.5 190.5L223.0 187.0L223.5 184.5L221.0 184.0L218.0 186.0L215.0 188.0L211.0 190.0L211.0 191.5L213.0 194.0L216.0 195.5L220.0 195.5L224.0 196.0L223.0 197.0L219.0 198.6L216.0 200.0L215.5 203.0L217.0 206.0L219.0 209.0L221.0 212.0L222.0 215.0L223.7 218.4L221.5 223.8L221.4 225.0L219.0 229.8L216.6 233.4L214.2 236.4L210.6 239.4L205.8 243.6L201.0 246.0L197.4 246.6L192.6 248.4L189.6 250.8L189.2 254.0L188.2 254.0L187.8 250.8L186.6 249.6L183.0 249.6L179.4 250.8L177.0 254.0L138.8 254.0L137.0 249.8L135.6 246.7L133.8 245.3L131.1 246.7L127.5 247.6L123.9 248.0L121.7 249.4L120.3 254.0L81.0 254.0L80.5 251.0L80.5 246.5L79.0 248.0L77.5 251.0L75.0 250.5L72.0 248.5L70.0 246.0L71.0 244.0L74.0 242.0L76.0 240.0L73.0 239.5L69.0 240.0L67.5 241.0L65.0 239.5L63.0 237.5L61.0 236.0L53.0 236.2L43.0 236.5ZM447.8 84.2L455.2 83.0L462.6 82.3L470.0 83.0L479.0 83.6L479.0 106.0L474.0 108.5L471.5 112.0L470.5 116.0L469.0 119.5L468.8 123.4L472.6 125.0L473.0 129.5L467.0 130.5L464.0 126.5L456.0 126.6L450.4 129.0L444.8 131.4L440.0 133.8L432.0 137.0L425.0 140.3L426.0 141.2L433.0 138.5L440.0 135.4L444.8 133.0L449.6 130.6L454.4 128.2L455.0 125.8L452.0 124.2L444.8 123.4L442.8 120.8L436.6 117.7L431.6 115.2L432.9 111.5L436.6 107.8L442.8 105.3L439.0 104.0L431.6 102.8L427.9 100.9L430.4 99.1L436.6 97.8L442.8 96.6L439.0 94.1L432.9 92.3L431.6 90.4L437.8 89.2L442.8 87.9L447.8 84.8ZM280.5 138.0L283.0 138.5L284.5 143.0L286.0 150.0L287.0 155.0L285.0 160.0L285.5 165.0L284.0 166.0L281.0 165.0L280.5 160.0L281.0 155.0L280.5 150.0L280.0 143.0ZM280.7 168.8L282.9 171.0L286.2 173.2L290.6 173.2L291.7 175.4L287.3 176.5L284.0 178.7L281.8 179.8L278.5 178.7L276.3 177.6L277.4 175.4L279.6 172.1ZM275.2 179.8L277.4 181.5L279.0 183.1L280.7 187.5L280.2 190.8L278.5 195.2L277.4 199.6L276.3 201.8L273.0 202.9L269.7 204.0L266.4 205.1L263.1 207.3L259.8 206.2L256.5 206.2L252.1 206.2L248.8 207.3L246.6 208.4L246.6 207.3L248.8 205.1L252.1 202.9L255.4 201.8L259.8 201.3L264.2 199.6L266.4 196.3L269.7 194.1L273.0 190.8L275.2 186.4L275.2 182.0ZM245.5 208.4L248.8 209.5L251.0 212.8L249.9 216.1L247.7 217.2L246.1 213.9L245.5 210.6ZM253.5 207.6L258.0 207.0L263.0 207.8L261.0 209.8L256.0 210.0L254.0 209.4ZM222.6 236.2L223.8 238.2L222.0 243.0L219.2 246.8L217.8 244.2L219.6 239.4ZM267.0 66.5L271.0 65.3L275.4 66.5L274.0 69.5L268.0 69.8ZM278.0 66.0L284.0 65.5L289.0 66.8L286.0 69.2L280.0 69.3ZM293.6 68.0L300.0 67.4L307.0 68.6L303.0 70.2L295.0 70.0ZM277.0 73.0L281.0 72.3L285.0 73.5L282.0 75.0L278.0 74.8ZM387.4 82.0L392.0 80.8L398.0 81.6L395.0 83.4L389.0 83.4Z" fill="none" stroke="#15153a" stroke-width="0.55"/>
<path d="M291 173L305.5 166.2" stroke="#2040d0" stroke-width="1.3" stroke-dasharray="1.6 1.1" fill="none"/>
<path d="M370 143.2h1.6M388 148.5h1.8M397.5 146.9h2M407 145.3h2.2M417.6 144.3h1.6M450 246.5h1.6M454.3 248.5h1.6M458.3 250.5h2.2M461.5 253h1.6" stroke="#2040d0" stroke-width="1.3" fill="none"/>
<path d="M458.8 250.5h1.2" stroke="#20c060" stroke-width="1" fill="none"/>
<path d="M187.6 133.6L183 139L176 145.5L173.2 148L175 147.5L181 142L186.5 137L188.5 134Z" fill="#fff" stroke="#333" stroke-width="0.5"/>
<path d="M43 65.6L52 64L61 62.6L69.4 61.9L70 63L61 64.5L52 66.5L43 69.6" fill="#fff" stroke="#333" stroke-width="0.6"/>
<path d="M131 52L136 53.5L145 55L152 55.3L159 54.6L160 52.5M157.6 55.8L163 54.8L170 55.2L174.4 57L172 59L165 59.2L160 57.5Z" fill="#fff" stroke="#333" stroke-width="0.6"/>
</g>
<rect x="43.7" y="120" width="57.5" height="33.1" fill="none" stroke="#000" stroke-width="2.6"/>
<rect x="188.5" y="119.8" width="57.5" height="32.8" fill="none" stroke="#000" stroke-width="2.6"/>
<rect x="250" y="119.8" width="54.6" height="32.8" fill="none" stroke="#000" stroke-width="2.6"/>
<rect x="307.5" y="119.8" width="54.1" height="32.8" fill="none" stroke="#000" stroke-width="2.6"/>
<rect x="365.6" y="119.8" width="54.8" height="33.4" fill="none" stroke="#000" stroke-width="2.6"/>
<rect x="423.8" y="86.4" width="54.2" height="32.7" fill="none" stroke="#000" stroke-width="2.6"/>
<text x="56.70" y="141.60" font-size="12" text-anchor="start" fill="#111" >KAZA</text>
<text x="200.70" y="141.60" font-size="12" text-anchor="start" fill="#111" >RUS1</text>
<text x="261.00" y="141.80" font-size="12" text-anchor="start" fill="#111" >RUS2</text>
<text x="318.80" y="141.80" font-size="12" text-anchor="start" fill="#111" >RUS3</text>
<text x="380.20" y="141.80" font-size="12" text-anchor="start" fill="#111" >PAC</text>
<text x="439.00" y="109.50" font-size="12" text-anchor="start" fill="#111" >ALA</text>
<text x="304.20" y="169.80" font-size="12.3" text-anchor="start" fill="#111" >KAZA=53.</text>
<text x="304.20" y="186.60" font-size="12.3" text-anchor="start" fill="#111" >RUS1=45.</text>
<text x="304.20" y="203.40" font-size="12.3" text-anchor="start" fill="#111" >RUS2=34.</text>
<text x="304.20" y="220.20" font-size="12.3" text-anchor="start" fill="#111" >RUS3=17.</text>
<text x="304.20" y="237.00" font-size="12.3" text-anchor="start" fill="#111" >PAC=58.</text>
<text x="304.20" y="253.80" font-size="12.3" text-anchor="start" fill="#111" >ALA=46.</text>
<rect x="43.4" y="52.4" width="435" height="201.3" fill="none" stroke="#222" stroke-width="1"/>
<path d="M43.40 253.7V258.2M43.40 52.4V47.9M72.40 253.7V255.7M72.40 52.4V50.4M101.40 253.7V255.7M101.40 52.4V50.4M130.40 253.7V258.2M130.40 52.4V47.9M159.40 253.7V255.7M159.40 52.4V50.4M188.40 253.7V255.7M188.40 52.4V50.4M217.40 253.7V258.2M217.40 52.4V47.9M246.40 253.7V255.7M246.40 52.4V50.4M275.40 253.7V255.7M275.40 52.4V50.4M304.40 253.7V258.2M304.40 52.4V47.9M333.40 253.7V255.7M333.40 52.4V50.4M362.40 253.7V255.7M362.40 52.4V50.4M391.40 253.7V258.2M391.40 52.4V47.9M420.40 253.7V255.7M420.40 52.4V50.4M449.40 253.7V255.7M449.40 52.4V50.4M478.40 253.7V258.2M478.40 52.4V47.9M43.4 253.40H38.9M478.4 253.40H482.9M43.4 219.90H41.4M478.4 219.90H480.4M43.4 186.40H38.9M478.4 186.40H482.9M43.4 152.90H41.4M478.4 152.90H480.4M43.4 119.40H38.9M478.4 119.40H482.9M43.4 85.90H41.4M478.4 85.90H480.4M43.4 52.40H38.9M478.4 52.40H482.9" stroke="#222" stroke-width="1" fill="none"/>
<text x="35.90" y="60.70" font-size="14.1" text-anchor="end" fill="#000" >80N</text>
<text x="35.90" y="124.30" font-size="14.1" text-anchor="end" fill="#000" >60N</text>
<text x="35.90" y="191.20" font-size="14.1" text-anchor="end" fill="#000" >40N</text>
<text x="35.90" y="253.90" font-size="14.1" text-anchor="end" fill="#000" >20N</text>
<text x="43.00" y="274.90" font-size="14.1" text-anchor="middle" fill="#000" >60E</text>
<text x="130.00" y="274.90" font-size="14.1" text-anchor="middle" fill="#000" >90E</text>
<text x="217.00" y="274.90" font-size="14.1" text-anchor="middle" fill="#000" >120E</text>
<text x="304.00" y="274.90" font-size="14.1" text-anchor="middle" fill="#000" >150E</text>
<text x="391.00" y="274.90" font-size="14.1" text-anchor="middle" fill="#000" >180E</text>
<text x="478.00" y="274.90" font-size="14.1" text-anchor="middle" fill="#000" >210E</text>
<rect x="18" y="286" width="46" height="8" fill="#3c05aa"/>
<rect x="64" y="286" width="46" height="8" fill="#0040f0"/>
<rect x="110" y="286" width="46" height="8" fill="#0096f5"/>
<rect x="156" y="286" width="46" height="8" fill="#00fff0"/>
<rect x="202" y="286" width="46" height="8" fill="#00ff3c"/>
<rect x="248" y="286" width="46" height="8" fill="#b4ff3c"/>
<rect x="294" y="286" width="46" height="8" fill="#ffeb32"/>
<rect x="340" y="286" width="46" height="8" fill="#ffb42d"/>
<rect x="386" y="286" width="46" height="8" fill="#ff7828"/>
<rect x="432" y="286" width="46" height="8" fill="#ff0a1e"/>
<rect x="18" y="286" width="460" height="8" fill="none" stroke="#222" stroke-width="0.8"/>
<path d="M64 286V294M110 286V294M156 286V294M202 286V294M248 286V294M294 286V294M340 286V294M386 286V294M432 286V294" stroke="#222" stroke-width="0.8"/>
<text x="18.00" y="312.40" font-size="14.5" text-anchor="middle" fill="#000" >5.0</text>
<text x="64.00" y="312.40" font-size="14.5" text-anchor="middle" fill="#000" >10</text>
<text x="110.00" y="312.40" font-size="14.5" text-anchor="middle" fill="#000" >20</text>
<text x="156.00" y="312.40" font-size="14.5" text-anchor="middle" fill="#000" >30</text>
<text x="202.00" y="312.40" font-size="14.5" text-anchor="middle" fill="#000" >40</text>
<text x="248.00" y="312.40" font-size="14.5" text-anchor="middle" fill="#000" >50</text>
<text x="294.00" y="312.40" font-size="14.5" text-anchor="middle" fill="#000" >60</text>
<text x="340.00" y="312.40" font-size="14.5" text-anchor="middle" fill="#000" >70</text>
<text x="386.00" y="312.40" font-size="14.5" text-anchor="middle" fill="#000" >80</text>
<text x="432.00" y="312.40" font-size="14.5" text-anchor="middle" fill="#000" >90</text>
<text x="478.00" y="312.40" font-size="14.5" text-anchor="middle" fill="#000" >100</text>
<text x="475.60" y="327.40" font-size="14.5" text-anchor="end" fill="#000" >Percentage (%)</text>
<text x="257.10" y="367.00" font-size="17.5" text-anchor="middle" fill="#000" >(b) Vertical smoke emission profiles</text>
</svg>
</body></html>
